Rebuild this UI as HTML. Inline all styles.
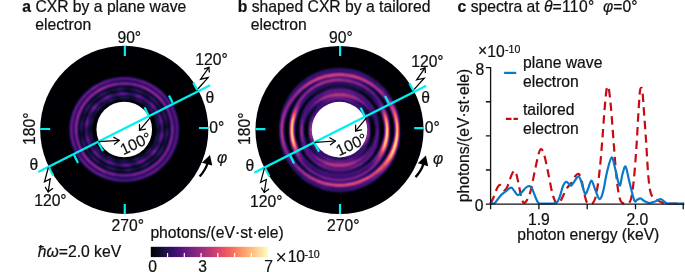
<!DOCTYPE html>
<html><head><meta charset="utf-8"><title>CXR figure</title>
<style>html,body{margin:0;padding:0;background:#fff}svg{display:block}text{font-family:'Liberation Sans', sans-serif;fill:#111;stroke:#111;stroke-width:0.22px}</style></head><body>
<svg width="685" height="272" viewBox="0 0 685 272">
<defs>
<filter id="mg" x="-5%" y="-5%" width="110%" height="110%" color-interpolation-filters="sRGB">
<feGaussianBlur stdDeviation="0.9"/>
<feComponentTransfer><feFuncR type="table" tableValues="0.001 0.014 0.040 0.074 0.113 0.159 0.212 0.265 0.317 0.366 0.415 0.464 0.513 0.563 0.614 0.665 0.716 0.767 0.817 0.863 0.904 0.937 0.961 0.977 0.987 0.993 0.996 0.997 0.997 0.995 0.992 0.989 0.987"/><feFuncG type="table" tableValues="0.000 0.012 0.031 0.052 0.065 0.068 0.062 0.060 0.072 0.090 0.110 0.130 0.148 0.165 0.182 0.198 0.215 0.234 0.256 0.284 0.320 0.365 0.418 0.476 0.536 0.595 0.654 0.712 0.770 0.827 0.884 0.941 0.991"/><feFuncB type="table" tableValues="0.014 0.069 0.134 0.203 0.277 0.353 0.419 0.462 0.485 0.498 0.505 0.508 0.508 0.505 0.499 0.489 0.475 0.458 0.436 0.412 0.388 0.369 0.360 0.364 0.382 0.410 0.446 0.488 0.535 0.586 0.640 0.698 0.750"/></feComponentTransfer>
</filter>
<filter id="mga" x="-5%" y="-5%" width="110%" height="110%" color-interpolation-filters="sRGB">
<feGaussianBlur stdDeviation="1.15"/>
<feComponentTransfer><feFuncR type="table" tableValues="0.001 0.014 0.040 0.074 0.113 0.159 0.212 0.265 0.317 0.366 0.415 0.464 0.513 0.563 0.614 0.665 0.716 0.767 0.817 0.863 0.904 0.937 0.961 0.977 0.987 0.993 0.996 0.997 0.997 0.995 0.992 0.989 0.987"/><feFuncG type="table" tableValues="0.000 0.012 0.031 0.052 0.065 0.068 0.062 0.060 0.072 0.090 0.110 0.130 0.148 0.165 0.182 0.198 0.215 0.234 0.256 0.284 0.320 0.365 0.418 0.476 0.536 0.595 0.654 0.712 0.770 0.827 0.884 0.941 0.991"/><feFuncB type="table" tableValues="0.014 0.069 0.134 0.203 0.277 0.353 0.419 0.462 0.485 0.498 0.505 0.508 0.508 0.505 0.499 0.489 0.475 0.458 0.436 0.412 0.388 0.369 0.360 0.364 0.382 0.410 0.446 0.488 0.535 0.586 0.640 0.698 0.750"/></feComponentTransfer>
</filter>
<linearGradient id="cb" x1="0" x2="1" y1="0" y2="0"><stop offset="0" stop-color="rgb(0,0,4)"/><stop offset="0.06" stop-color="rgb(10,8,34)"/><stop offset="0.12" stop-color="rgb(29,17,71)"/><stop offset="0.19" stop-color="rgb(54,16,107)"/><stop offset="0.25" stop-color="rgb(81,18,124)"/><stop offset="0.31" stop-color="rgb(106,28,129)"/><stop offset="0.38" stop-color="rgb(131,38,129)"/><stop offset="0.44" stop-color="rgb(156,46,127)"/><stop offset="0.5" stop-color="rgb(183,55,121)"/><stop offset="0.56" stop-color="rgb(208,65,111)"/><stop offset="0.62" stop-color="rgb(231,82,99)"/><stop offset="0.69" stop-color="rgb(245,107,92)"/><stop offset="0.75" stop-color="rgb(252,137,97)"/><stop offset="0.81" stop-color="rgb(254,167,114)"/><stop offset="0.88" stop-color="rgb(254,196,136)"/><stop offset="0.94" stop-color="rgb(253,226,163)"/><stop offset="1" stop-color="rgb(252,253,191)"/></linearGradient>
</defs>
<rect width="685" height="272" fill="#fff"/>
<circle cx="124.25" cy="129.9" r="84.05" fill="#000004"/>
<g filter="url(#mga)"><circle cx="124.25" cy="129.9" r="67" fill="#000"/>
<g fill="none" stroke="#fff" stroke-linecap="butt" stroke-linejoin="round">
<path d="M177.15 129.9 L177.09 127.13 L176.88 124.37 L176.51 121.62 L175.98 118.9 L175.31 116.22 L174.48 113.58 L173.51 110.99 L172.39 108.47 L171.14 106.01 L169.76 103.62 L168.25 101.33 L166.62 99.11 L164.88 97 L163.03 94.98" stroke-opacity="0.32" stroke-width="3"/>
<path d="M163.03 94.98 L161.08 93.07 L159.03 91.27 L156.9 89.58 L154.69 88.01 L152.4 86.55 L150.05 85.22 L147.63 84 L145.17 82.92 L142.65 81.96 L140.1 81.12" stroke-opacity="0.36" stroke-width="3"/>
<path d="M140.1 81.12 L137.51 80.41 L134.89 79.83 L132.25 79.38 L129.59 79.06 L126.92 78.86 L124.25 78.8 L121.58 78.86 L118.91 79.06 L116.25 79.38 L113.61 79.83 L110.99 80.41" stroke-opacity="0.32" stroke-width="3"/>
<path d="M110.99 80.41 L108.4 81.12 L105.85 81.96 L103.33 82.92 L100.87 84 L98.45 85.22" stroke-opacity="0.36" stroke-width="3"/>
<path d="M98.45 85.22 L96.1 86.55 L93.81 88.01 L91.6 89.58" stroke-opacity="0.4" stroke-width="3"/>
<path d="M91.6 89.58 L89.47 91.27 L87.42 93.07 L85.47 94.98 L83.62 97 L81.88 99.11 L80.25 101.33 L78.74 103.62 L77.36 106.01 L76.11 108.47 L74.99 110.99 L74.02 113.58 L73.19 116.22 L72.52 118.9 L71.99 121.62 L71.62 124.37 L71.41 127.13 L71.35 129.9 L71.45 132.67 L71.71 135.42 L72.12 138.16 L72.68 140.86 L73.39 143.53 L74.26 146.14" stroke-opacity="0.36" stroke-width="3"/>
<path d="M74.26 146.14 L75.26 148.71 L76.4 151.2 L77.68 153.63 L79.09 155.98 L80.61 158.24" stroke-opacity="0.32" stroke-width="3"/>
<path d="M80.61 158.24 L82.26 160.41 L84.01 162.48 L85.87 164.46 L87.82 166.33 L89.86 168.09 L91.99 169.74 L94.19 171.27 L96.46 172.69 L98.8 173.98 L101.19 175.16 L103.63 176.22 L106.11 177.15" stroke-opacity="0.36" stroke-width="3"/>
<path d="M106.11 177.15 L108.64 177.96 L111.19 178.64 L113.77 179.2 L116.37 179.64 L118.99 179.95" stroke-opacity="0.32" stroke-width="3"/>
<path d="M118.99 179.95 L121.62 180.14 L124.25 180.2 L126.88 180.14 L129.51 179.95 L132.13 179.64" stroke-opacity="0.28" stroke-width="3"/>
<path d="M132.13 179.64 L134.73 179.2 L137.31 178.64 L139.86 177.96 L142.39 177.15 L144.87 176.22 L147.31 175.16" stroke-opacity="0.32" stroke-width="3"/>
<path d="M147.31 175.16 L149.7 173.98 L152.04 172.69 L154.31 171.27 L156.51 169.74 L158.64 168.09" stroke-opacity="0.36" stroke-width="3"/>
<path d="M158.64 168.09 L160.68 166.33 L162.63 164.46 L164.49 162.48 L166.24 160.41 L167.89 158.24 L169.41 155.98 L170.82 153.63 L172.1 151.2 L173.24 148.71 L174.24 146.14 L175.11 143.53 L175.82 140.86 L176.38 138.16 L176.79 135.42 L177.05 132.67 L177.15 129.9" stroke-opacity="0.32" stroke-width="3"/>
<path d="M172.45 129.9 L172.4 127.38 L172.2 124.86" stroke-opacity="0.4" stroke-width="3.2"/>
<path d="M172.2 124.86 L171.87 122.36 L171.39 119.88 L170.77 117.44 L170.01 115.03 L169.12 112.68 L168.1 110.38" stroke-opacity="0.36" stroke-width="3.2"/>
<path d="M168.1 110.38 L166.95 108.14 L165.69 105.98 L164.31 103.89 L162.82 101.88" stroke-opacity="0.4" stroke-width="3.2"/>
<path d="M162.82 101.88 L161.23 99.96 L159.54 98.13 L157.75 96.4 L155.89 94.76 L153.94 93.23 L151.93 91.81 L149.84 90.49 L147.7 89.29 L145.5 88.19 L143.26 87.21 L140.97 86.34" stroke-opacity="0.44" stroke-width="3.2"/>
<path d="M140.97 86.34 L138.65 85.59 L136.29 84.95 L133.92 84.43 L131.52 84.02 L129.1 83.73 L126.68 83.56 L124.25 83.5 L121.82 83.56 L119.4 83.73 L116.98 84.02" stroke-opacity="0.4" stroke-width="3.2"/>
<path d="M116.98 84.02 L114.58 84.43 L112.21 84.95 L109.85 85.59 L107.53 86.34 L105.24 87.21" stroke-opacity="0.44" stroke-width="3.2"/>
<path d="M105.24 87.21 L103 88.19 L100.8 89.29 L98.66 90.49 L96.57 91.81" stroke-opacity="0.48" stroke-width="3.2"/>
<path d="M96.57 91.81 L94.56 93.23 L92.61 94.76 L90.75 96.4 L88.96 98.13 L87.27 99.96 L85.68 101.88 L84.19 103.89 L82.81 105.98 L81.55 108.14 L80.4 110.38 L79.38 112.68 L78.49 115.03 L77.73 117.44 L77.11 119.88 L76.63 122.36 L76.3 124.86 L76.1 127.38 L76.05 129.9 L76.14 132.42 L76.38 134.93" stroke-opacity="0.44" stroke-width="3.2"/>
<path d="M76.38 134.93 L76.76 137.42 L77.28 139.88 L77.93 142.31 L78.73 144.69 L79.65 147.02 L80.7 149.29 L81.87 151.49 L83.16 153.62" stroke-opacity="0.4" stroke-width="3.2"/>
<path d="M83.16 153.62 L84.56 155.68 L86.06 157.65 L87.66 159.53 L89.36 161.31 L91.15 163 L93.01 164.6 L94.95 166.08 L96.96 167.47 L99.02 168.74 L101.15 169.91 L103.32 170.97 L105.54 171.92" stroke-opacity="0.44" stroke-width="3.2"/>
<path d="M105.54 171.92 L107.8 172.76 L110.09 173.49 L112.41 174.1 L114.75 174.61" stroke-opacity="0.4" stroke-width="3.2"/>
<path d="M114.75 174.61 L117.11 175 L119.48 175.28 L121.86 175.44 L124.25 175.5 L126.64 175.44 L129.02 175.28" stroke-opacity="0.36" stroke-width="3.2"/>
<path d="M129.02 175.28 L131.39 175 L133.75 174.61 L136.09 174.1 L138.41 173.49 L140.7 172.76 L142.96 171.92 L145.18 170.97" stroke-opacity="0.4" stroke-width="3.2"/>
<path d="M145.18 170.97 L147.35 169.91" stroke-opacity="0.44" stroke-width="3.2"/>
<path d="M147.35 169.91 L149.48 168.74 L151.54 167.47 L153.55 166.08 L155.49 164.6 L157.35 163 L159.14 161.31 L160.84 159.53 L162.44 157.65 L163.94 155.68 L165.34 153.63 L166.63 151.49 L167.8 149.29 L168.85 147.02 L169.77 144.69 L170.57 142.31 L171.22 139.88 L171.74 137.42 L172.12 134.93 L172.36 132.42 L172.45 129.9" stroke-opacity="0.4" stroke-width="3.2"/>
<path d="M167.25 129.9 L167.21 127.65" stroke-opacity="0.16" stroke-width="2.6"/>
<path d="M167.21 127.65 L167.03 125.4 L166.73 123.17" stroke-opacity="0.12" stroke-width="2.6"/>
<path d="M166.73 123.17 L166.3 120.96" stroke-opacity="0.16" stroke-width="2.6"/>
<path d="M166.3 120.96 L165.74 118.78" stroke-opacity="0.2" stroke-width="2.6"/>
<path d="M165.74 118.78 L165.06 116.64 L164.26 114.54 L163.35 112.49" stroke-opacity="0.24" stroke-width="2.6"/>
<path d="M163.35 112.49 L162.32 110.5" stroke-opacity="0.2" stroke-width="2.6"/>
<path d="M162.32 110.5 L161.19 108.58 L159.95 106.72 L158.61 104.93" stroke-opacity="0.16" stroke-width="2.6"/>
<path d="M158.61 104.93 L157.19 103.23" stroke-opacity="0.2" stroke-width="2.6"/>
<path d="M157.19 103.23 L155.67 101.61 L154.08 100.07 L152.41 98.63 L150.67 97.27" stroke-opacity="0.24" stroke-width="2.6"/>
<path d="M150.67 97.27 L148.87 96.02" stroke-opacity="0.2" stroke-width="2.6"/>
<path d="M148.87 96.02 L147.01 94.85 L145.1 93.79 L143.14 92.83" stroke-opacity="0.16" stroke-width="2.6"/>
<path d="M143.14 92.83 L141.14 91.96" stroke-opacity="0.2" stroke-width="2.6"/>
<path d="M141.14 91.96 L139.11 91.2 L137.04 90.54 L134.95 89.97" stroke-opacity="0.24" stroke-width="2.6"/>
<path d="M134.95 89.97 L132.83 89.52" stroke-opacity="0.2" stroke-width="2.6"/>
<path d="M132.83 89.52 L130.7 89.16" stroke-opacity="0.16" stroke-width="2.6"/>
<path d="M130.7 89.16 L128.56 88.9 L126.41 88.75" stroke-opacity="0.12" stroke-width="2.6"/>
<path d="M126.41 88.75 L124.25 88.7" stroke-opacity="0.16" stroke-width="2.6"/>
<path d="M124.25 88.7 L122.09 88.75" stroke-opacity="0.2" stroke-width="2.6"/>
<path d="M122.09 88.75 L119.94 88.9 L117.8 89.16" stroke-opacity="0.24" stroke-width="2.6"/>
<path d="M117.8 89.16 L115.67 89.52" stroke-opacity="0.2" stroke-width="2.6"/>
<path d="M115.67 89.52 L113.55 89.97 L111.46 90.54" stroke-opacity="0.16" stroke-width="2.6"/>
<path d="M111.46 90.54 L109.39 91.2" stroke-opacity="0.12" stroke-width="2.6"/>
<path d="M109.39 91.2 L107.36 91.96" stroke-opacity="0.16" stroke-width="2.6"/>
<path d="M107.36 91.96 L105.36 92.83" stroke-opacity="0.2" stroke-width="2.6"/>
<path d="M105.36 92.83 L103.4 93.79 L101.49 94.85 L99.63 96.02" stroke-opacity="0.24" stroke-width="2.6"/>
<path d="M99.63 96.02 L97.83 97.27" stroke-opacity="0.2" stroke-width="2.6"/>
<path d="M97.83 97.27 L96.09 98.63 L94.42 100.07 L92.83 101.61 L91.31 103.23" stroke-opacity="0.16" stroke-width="2.6"/>
<path d="M91.31 103.23 L89.89 104.93" stroke-opacity="0.2" stroke-width="2.6"/>
<path d="M89.89 104.93 L88.55 106.72 L87.31 108.58 L86.18 110.5" stroke-opacity="0.24" stroke-width="2.6"/>
<path d="M86.18 110.5 L85.15 112.49" stroke-opacity="0.2" stroke-width="2.6"/>
<path d="M85.15 112.49 L84.24 114.54" stroke-opacity="0.16" stroke-width="2.6"/>
<path d="M84.24 114.54 L83.44 116.64" stroke-opacity="0.12" stroke-width="2.6"/>
<path d="M83.44 116.64 L82.76 118.78 L82.2 120.96" stroke-opacity="0.16" stroke-width="2.6"/>
<path d="M82.2 120.96 L81.77 123.17" stroke-opacity="0.2" stroke-width="2.6"/>
<path d="M81.77 123.17 L81.47 125.4 L81.29 127.65" stroke-opacity="0.24" stroke-width="2.6"/>
<path d="M81.29 127.65 L81.25 129.9" stroke-opacity="0.2" stroke-width="2.6"/>
<path d="M81.25 129.9 L81.34 132.15" stroke-opacity="0.16" stroke-width="2.6"/>
<path d="M81.34 132.15 L81.55 134.39 L81.89 136.61" stroke-opacity="0.12" stroke-width="2.6"/>
<path d="M81.89 136.61 L82.36 138.8" stroke-opacity="0.16" stroke-width="2.6"/>
<path d="M82.36 138.8 L82.96 140.96" stroke-opacity="0.2" stroke-width="2.6"/>
<path d="M82.96 140.96 L83.67 143.08 L84.5 145.16 L85.45 147.18" stroke-opacity="0.24" stroke-width="2.6"/>
<path d="M85.45 147.18 L86.5 149.13" stroke-opacity="0.2" stroke-width="2.6"/>
<path d="M86.5 149.13 L87.66 151.03 L88.92 152.85 L90.27 154.59" stroke-opacity="0.16" stroke-width="2.6"/>
<path d="M90.27 154.59 L91.71 156.25" stroke-opacity="0.2" stroke-width="2.6"/>
<path d="M91.71 156.25 L93.23 157.83 L94.82 159.33 L96.49 160.73 L98.22 162.04" stroke-opacity="0.24" stroke-width="2.6"/>
<path d="M98.22 162.04 L100.01 163.26" stroke-opacity="0.2" stroke-width="2.6"/>
<path d="M100.01 163.26 L101.86 164.38 L103.75 165.41 L105.68 166.34" stroke-opacity="0.16" stroke-width="2.6"/>
<path d="M105.68 166.34 L107.66 167.17" stroke-opacity="0.2" stroke-width="2.6"/>
<path d="M107.66 167.17 L109.66 167.91 L111.69 168.54 L113.75 169.08" stroke-opacity="0.24" stroke-width="2.6"/>
<path d="M113.75 169.08 L115.83 169.52" stroke-opacity="0.2" stroke-width="2.6"/>
<path d="M115.83 169.52 L117.92 169.86" stroke-opacity="0.16" stroke-width="2.6"/>
<path d="M117.92 169.86 L120.02 170.1 L122.14 170.25" stroke-opacity="0.12" stroke-width="2.6"/>
<path d="M122.14 170.25 L124.25 170.3" stroke-opacity="0.16" stroke-width="2.6"/>
<path d="M124.25 170.3 L126.36 170.25" stroke-opacity="0.2" stroke-width="2.6"/>
<path d="M126.36 170.25 L128.48 170.1 L130.58 169.86" stroke-opacity="0.24" stroke-width="2.6"/>
<path d="M130.58 169.86 L132.67 169.52" stroke-opacity="0.2" stroke-width="2.6"/>
<path d="M132.67 169.52 L134.75 169.08 L136.81 168.54" stroke-opacity="0.16" stroke-width="2.6"/>
<path d="M136.81 168.54 L138.84 167.91" stroke-opacity="0.12" stroke-width="2.6"/>
<path d="M138.84 167.91 L140.84 167.17" stroke-opacity="0.16" stroke-width="2.6"/>
<path d="M140.84 167.17 L142.82 166.34" stroke-opacity="0.2" stroke-width="2.6"/>
<path d="M142.82 166.34 L144.75 165.41 L146.64 164.38 L148.49 163.26" stroke-opacity="0.24" stroke-width="2.6"/>
<path d="M148.49 163.26 L150.28 162.04" stroke-opacity="0.2" stroke-width="2.6"/>
<path d="M150.28 162.04 L152.01 160.73 L153.68 159.33 L155.27 157.83 L156.79 156.25" stroke-opacity="0.16" stroke-width="2.6"/>
<path d="M156.79 156.25 L158.23 154.59" stroke-opacity="0.2" stroke-width="2.6"/>
<path d="M158.23 154.59 L159.58 152.85 L160.84 151.03 L162 149.13" stroke-opacity="0.24" stroke-width="2.6"/>
<path d="M162 149.13 L163.05 147.18" stroke-opacity="0.2" stroke-width="2.6"/>
<path d="M163.05 147.18 L164 145.16" stroke-opacity="0.16" stroke-width="2.6"/>
<path d="M164 145.16 L164.83 143.08" stroke-opacity="0.12" stroke-width="2.6"/>
<path d="M164.83 143.08 L165.54 140.96 L166.14 138.8" stroke-opacity="0.16" stroke-width="2.6"/>
<path d="M166.14 138.8 L166.61 136.61" stroke-opacity="0.2" stroke-width="2.6"/>
<path d="M166.61 136.61 L166.95 134.39 L167.16 132.15" stroke-opacity="0.24" stroke-width="2.6"/>
<path d="M167.16 132.15 L167.25 129.9" stroke-opacity="0.2" stroke-width="2.6"/>
<path d="M162.25 129.9 L162.21 127.91 L162.06 125.93" stroke-opacity="0.2" stroke-width="3.2"/>
<path d="M162.06 125.93 L161.79 123.95" stroke-opacity="0.24" stroke-width="3.2"/>
<path d="M161.79 123.95 L161.41 122" stroke-opacity="0.32" stroke-width="3.2"/>
<path d="M161.41 122 L160.91 120.08 L160.31 118.18" stroke-opacity="0.36" stroke-width="3.2"/>
<path d="M160.31 118.18 L159.6 116.33" stroke-opacity="0.32" stroke-width="3.2"/>
<path d="M159.6 116.33 L158.78 114.53" stroke-opacity="0.28" stroke-width="3.2"/>
<path d="M158.78 114.53 L157.87 112.77" stroke-opacity="0.24" stroke-width="3.2"/>
<path d="M157.87 112.77 L156.86 111.08" stroke-opacity="0.2" stroke-width="3.2"/>
<path d="M156.86 111.08 L155.75 109.44" stroke-opacity="0.24" stroke-width="3.2"/>
<path d="M155.75 109.44 L154.57 107.87" stroke-opacity="0.32" stroke-width="3.2"/>
<path d="M154.57 107.87 L153.3 106.38" stroke-opacity="0.36" stroke-width="3.2"/>
<path d="M153.3 106.38 L151.96 104.95" stroke-opacity="0.4" stroke-width="3.2"/>
<path d="M151.96 104.95 L150.54 103.61" stroke-opacity="0.36" stroke-width="3.2"/>
<path d="M150.54 103.61 L149.06 102.34" stroke-opacity="0.32" stroke-width="3.2"/>
<path d="M149.06 102.34 L147.52 101.16" stroke-opacity="0.28" stroke-width="3.2"/>
<path d="M147.52 101.16 L145.93 100.06 L144.29 99.05" stroke-opacity="0.24" stroke-width="3.2"/>
<path d="M144.29 99.05 L142.6 98.12" stroke-opacity="0.28" stroke-width="3.2"/>
<path d="M142.6 98.12 L140.87 97.28" stroke-opacity="0.32" stroke-width="3.2"/>
<path d="M140.87 97.28 L139.11 96.53 L137.31 95.87" stroke-opacity="0.36" stroke-width="3.2"/>
<path d="M137.31 95.87 L135.5 95.29" stroke-opacity="0.32" stroke-width="3.2"/>
<path d="M135.5 95.29 L133.65 94.8" stroke-opacity="0.28" stroke-width="3.2"/>
<path d="M133.65 94.8 L131.79 94.41 L129.92 94.1 L128.04 93.88" stroke-opacity="0.2" stroke-width="3.2"/>
<path d="M128.04 93.88 L126.14 93.74" stroke-opacity="0.28" stroke-width="3.2"/>
<path d="M126.14 93.74 L124.25 93.7" stroke-opacity="0.32" stroke-width="3.2"/>
<path d="M124.25 93.7 L122.36 93.74 L120.46 93.88" stroke-opacity="0.36" stroke-width="3.2"/>
<path d="M120.46 93.88 L118.58 94.1" stroke-opacity="0.32" stroke-width="3.2"/>
<path d="M118.58 94.1 L116.71 94.41" stroke-opacity="0.24" stroke-width="3.2"/>
<path d="M116.71 94.41 L114.85 94.8 L113 95.29" stroke-opacity="0.2" stroke-width="3.2"/>
<path d="M113 95.29 L111.19 95.87" stroke-opacity="0.24" stroke-width="3.2"/>
<path d="M111.19 95.87 L109.39 96.53" stroke-opacity="0.32" stroke-width="3.2"/>
<path d="M109.39 96.53 L107.63 97.28" stroke-opacity="0.36" stroke-width="3.2"/>
<path d="M107.63 97.28 L105.9 98.12" stroke-opacity="0.4" stroke-width="3.2"/>
<path d="M105.9 98.12 L104.21 99.05" stroke-opacity="0.36" stroke-width="3.2"/>
<path d="M104.21 99.05 L102.57 100.06" stroke-opacity="0.32" stroke-width="3.2"/>
<path d="M102.57 100.06 L100.98 101.16 L99.44 102.34 L97.96 103.61" stroke-opacity="0.24" stroke-width="3.2"/>
<path d="M97.96 103.61 L96.54 104.95" stroke-opacity="0.28" stroke-width="3.2"/>
<path d="M96.54 104.95 L95.2 106.38" stroke-opacity="0.36" stroke-width="3.2"/>
<path d="M95.2 106.38 L93.93 107.87 L92.75 109.44" stroke-opacity="0.4" stroke-width="3.2"/>
<path d="M92.75 109.44 L91.64 111.08" stroke-opacity="0.32" stroke-width="3.2"/>
<path d="M91.64 111.08 L90.63 112.77" stroke-opacity="0.28" stroke-width="3.2"/>
<path d="M90.63 112.77 L89.72 114.53" stroke-opacity="0.24" stroke-width="3.2"/>
<path d="M89.72 114.53 L88.9 116.33" stroke-opacity="0.2" stroke-width="3.2"/>
<path d="M88.9 116.33 L88.19 118.18" stroke-opacity="0.24" stroke-width="3.2"/>
<path d="M88.19 118.18 L87.59 120.08" stroke-opacity="0.32" stroke-width="3.2"/>
<path d="M87.59 120.08 L87.09 122 L86.71 123.95 L86.44 125.93" stroke-opacity="0.36" stroke-width="3.2"/>
<path d="M86.44 125.93 L86.29 127.91" stroke-opacity="0.28" stroke-width="3.2"/>
<path d="M86.29 127.91 L86.25 129.9" stroke-opacity="0.24" stroke-width="3.2"/>
<path d="M86.25 129.9 L86.33 131.89 L86.52 133.87" stroke-opacity="0.2" stroke-width="3.2"/>
<path d="M86.52 133.87 L86.83 135.83" stroke-opacity="0.24" stroke-width="3.2"/>
<path d="M86.83 135.83 L87.25 137.76" stroke-opacity="0.32" stroke-width="3.2"/>
<path d="M87.25 137.76 L87.79 139.67 L88.43 141.54" stroke-opacity="0.36" stroke-width="3.2"/>
<path d="M88.43 141.54 L89.17 143.37" stroke-opacity="0.32" stroke-width="3.2"/>
<path d="M89.17 143.37 L90.02 145.14" stroke-opacity="0.28" stroke-width="3.2"/>
<path d="M90.02 145.14 L90.96 146.86" stroke-opacity="0.24" stroke-width="3.2"/>
<path d="M90.96 146.86 L91.99 148.53" stroke-opacity="0.2" stroke-width="3.2"/>
<path d="M91.99 148.53 L93.11 150.12" stroke-opacity="0.24" stroke-width="3.2"/>
<path d="M93.11 150.12 L94.31 151.65" stroke-opacity="0.32" stroke-width="3.2"/>
<path d="M94.31 151.65 L95.59 153.11" stroke-opacity="0.36" stroke-width="3.2"/>
<path d="M95.59 153.11 L96.94 154.49" stroke-opacity="0.4" stroke-width="3.2"/>
<path d="M96.94 154.49 L98.36 155.79" stroke-opacity="0.36" stroke-width="3.2"/>
<path d="M98.36 155.79 L99.83 157.02" stroke-opacity="0.32" stroke-width="3.2"/>
<path d="M99.83 157.02 L101.37 158.16" stroke-opacity="0.28" stroke-width="3.2"/>
<path d="M101.37 158.16 L102.95 159.22 L104.58 160.19" stroke-opacity="0.24" stroke-width="3.2"/>
<path d="M104.58 160.19 L106.25 161.08" stroke-opacity="0.28" stroke-width="3.2"/>
<path d="M106.25 161.08 L107.95 161.88" stroke-opacity="0.32" stroke-width="3.2"/>
<path d="M107.95 161.88 L109.69 162.6 L111.45 163.24" stroke-opacity="0.36" stroke-width="3.2"/>
<path d="M111.45 163.24 L113.24 163.79" stroke-opacity="0.32" stroke-width="3.2"/>
<path d="M113.24 163.79 L115.05 164.25" stroke-opacity="0.28" stroke-width="3.2"/>
<path d="M115.05 164.25 L116.87 164.63 L118.7 164.92 L120.55 165.13" stroke-opacity="0.2" stroke-width="3.2"/>
<path d="M120.55 165.13 L122.4 165.26" stroke-opacity="0.28" stroke-width="3.2"/>
<path d="M122.4 165.26 L124.25 165.3" stroke-opacity="0.32" stroke-width="3.2"/>
<path d="M124.25 165.3 L126.1 165.26 L127.95 165.13" stroke-opacity="0.36" stroke-width="3.2"/>
<path d="M127.95 165.13 L129.8 164.92" stroke-opacity="0.32" stroke-width="3.2"/>
<path d="M129.8 164.92 L131.63 164.63" stroke-opacity="0.24" stroke-width="3.2"/>
<path d="M131.63 164.63 L133.45 164.25 L135.26 163.79" stroke-opacity="0.2" stroke-width="3.2"/>
<path d="M135.26 163.79 L137.05 163.24" stroke-opacity="0.24" stroke-width="3.2"/>
<path d="M137.05 163.24 L138.81 162.6" stroke-opacity="0.32" stroke-width="3.2"/>
<path d="M138.81 162.6 L140.55 161.88" stroke-opacity="0.36" stroke-width="3.2"/>
<path d="M140.55 161.88 L142.25 161.08" stroke-opacity="0.4" stroke-width="3.2"/>
<path d="M142.25 161.08 L143.92 160.19" stroke-opacity="0.36" stroke-width="3.2"/>
<path d="M143.92 160.19 L145.55 159.22" stroke-opacity="0.32" stroke-width="3.2"/>
<path d="M145.55 159.22 L147.13 158.16 L148.67 157.02 L150.14 155.79" stroke-opacity="0.24" stroke-width="3.2"/>
<path d="M150.14 155.79 L151.56 154.49" stroke-opacity="0.28" stroke-width="3.2"/>
<path d="M151.56 154.49 L152.91 153.11" stroke-opacity="0.36" stroke-width="3.2"/>
<path d="M152.91 153.11 L154.19 151.65 L155.39 150.12" stroke-opacity="0.4" stroke-width="3.2"/>
<path d="M155.39 150.12 L156.51 148.53" stroke-opacity="0.32" stroke-width="3.2"/>
<path d="M156.51 148.53 L157.54 146.86" stroke-opacity="0.28" stroke-width="3.2"/>
<path d="M157.54 146.86 L158.48 145.14" stroke-opacity="0.24" stroke-width="3.2"/>
<path d="M158.48 145.14 L159.33 143.37" stroke-opacity="0.2" stroke-width="3.2"/>
<path d="M159.33 143.37 L160.07 141.54" stroke-opacity="0.24" stroke-width="3.2"/>
<path d="M160.07 141.54 L160.71 139.67" stroke-opacity="0.32" stroke-width="3.2"/>
<path d="M160.71 139.67 L161.25 137.76 L161.67 135.83 L161.98 133.87" stroke-opacity="0.36" stroke-width="3.2"/>
<path d="M161.98 133.87 L162.17 131.89" stroke-opacity="0.28" stroke-width="3.2"/>
<path d="M162.17 131.89 L162.25 129.9" stroke-opacity="0.24" stroke-width="3.2"/>
<path d="M158.05 129.9 L158.02 128.13 L157.88 126.37" stroke-opacity="0.12" stroke-width="3"/>
<path d="M157.88 126.37 L157.64 124.61 L157.3 122.88 L156.86 121.16 L156.31 119.48" stroke-opacity="0.16" stroke-width="3"/>
<path d="M156.31 119.48 L155.68 117.84 L154.94 116.23 L154.12 114.68 L153.22 113.18" stroke-opacity="0.12" stroke-width="3"/>
<path d="M153.22 113.18 L152.23 111.73" stroke-opacity="0.16" stroke-width="3"/>
<path d="M152.23 111.73 L151.17 110.34 L150.04 109.02" stroke-opacity="0.2" stroke-width="3"/>
<path d="M150.04 109.02 L148.84 107.76 L147.57 106.58" stroke-opacity="0.16" stroke-width="3"/>
<path d="M147.57 106.58 L146.25 105.46 L144.88 104.42 L143.46 103.46 L142 102.57" stroke-opacity="0.12" stroke-width="3"/>
<path d="M142 102.57 L140.5 101.76" stroke-opacity="0.16" stroke-width="3"/>
<path d="M140.5 101.76 L138.96 101.02 L137.4 100.37" stroke-opacity="0.2" stroke-width="3"/>
<path d="M137.4 100.37 L135.81 99.79" stroke-opacity="0.16" stroke-width="3"/>
<path d="M135.81 99.79 L134.2 99.29 L132.57 98.86" stroke-opacity="0.12" stroke-width="3"/>
<path d="M132.57 98.86 L130.92 98.51" stroke-opacity="0.08" stroke-width="3"/>
<path d="M130.92 98.51 L129.26 98.25 L127.6 98.05" stroke-opacity="0.12" stroke-width="3"/>
<path d="M127.6 98.05 L125.93 97.94 L124.25 97.9 L122.57 97.94 L120.9 98.05" stroke-opacity="0.16" stroke-width="3"/>
<path d="M120.9 98.05 L119.24 98.25" stroke-opacity="0.12" stroke-width="3"/>
<path d="M119.24 98.25 L117.58 98.51" stroke-opacity="0.08" stroke-width="3"/>
<path d="M117.58 98.51 L115.93 98.86 L114.3 99.29" stroke-opacity="0.12" stroke-width="3"/>
<path d="M114.3 99.29 L112.69 99.79" stroke-opacity="0.16" stroke-width="3"/>
<path d="M112.69 99.79 L111.1 100.37 L109.54 101.02" stroke-opacity="0.2" stroke-width="3"/>
<path d="M109.54 101.02 L108 101.76" stroke-opacity="0.16" stroke-width="3"/>
<path d="M108 101.76 L106.5 102.57 L105.04 103.46 L103.62 104.42 L102.25 105.46" stroke-opacity="0.12" stroke-width="3"/>
<path d="M102.25 105.46 L100.93 106.58 L99.66 107.76" stroke-opacity="0.16" stroke-width="3"/>
<path d="M99.66 107.76 L98.46 109.02 L97.33 110.34" stroke-opacity="0.2" stroke-width="3"/>
<path d="M97.33 110.34 L96.27 111.73" stroke-opacity="0.16" stroke-width="3"/>
<path d="M96.27 111.73 L95.28 113.18 L94.38 114.68 L93.56 116.23 L92.82 117.84" stroke-opacity="0.12" stroke-width="3"/>
<path d="M92.82 117.84 L92.19 119.48 L91.64 121.16 L91.2 122.88 L90.86 124.61" stroke-opacity="0.16" stroke-width="3"/>
<path d="M90.86 124.61 L90.62 126.37 L90.48 128.13" stroke-opacity="0.12" stroke-width="3"/>
<path d="M90.48 128.13 L90.45 129.9" stroke-opacity="0.08" stroke-width="3"/>
<path d="M90.45 129.9 L90.52 131.67 L90.7 133.43" stroke-opacity="0.12" stroke-width="3"/>
<path d="M90.7 133.43 L90.98 135.17 L91.36 136.89 L91.84 138.58 L92.42 140.24" stroke-opacity="0.16" stroke-width="3"/>
<path d="M92.42 140.24 L93.09 141.86 L93.85 143.43 L94.7 144.96 L95.63 146.43" stroke-opacity="0.12" stroke-width="3"/>
<path d="M95.63 146.43 L96.63 147.83" stroke-opacity="0.16" stroke-width="3"/>
<path d="M96.63 147.83 L97.71 149.18 L98.86 150.46" stroke-opacity="0.2" stroke-width="3"/>
<path d="M98.86 150.46 L100.06 151.68 L101.33 152.82" stroke-opacity="0.16" stroke-width="3"/>
<path d="M101.33 152.82 L102.65 153.89 L104.01 154.89 L105.42 155.82 L106.87 156.67" stroke-opacity="0.12" stroke-width="3"/>
<path d="M106.87 156.67 L108.35 157.44" stroke-opacity="0.16" stroke-width="3"/>
<path d="M108.35 157.44 L109.86 158.14 L111.4 158.77" stroke-opacity="0.2" stroke-width="3"/>
<path d="M111.4 158.77 L112.96 159.32" stroke-opacity="0.16" stroke-width="3"/>
<path d="M112.96 159.32 L114.54 159.79 L116.13 160.19" stroke-opacity="0.12" stroke-width="3"/>
<path d="M116.13 160.19 L117.74 160.52" stroke-opacity="0.08" stroke-width="3"/>
<path d="M117.74 160.52 L119.36 160.77 L120.99 160.96" stroke-opacity="0.12" stroke-width="3"/>
<path d="M120.99 160.96 L122.62 161.06 L124.25 161.1 L125.88 161.06 L127.51 160.96" stroke-opacity="0.16" stroke-width="3"/>
<path d="M127.51 160.96 L129.14 160.77" stroke-opacity="0.12" stroke-width="3"/>
<path d="M129.14 160.77 L130.76 160.52" stroke-opacity="0.08" stroke-width="3"/>
<path d="M130.76 160.52 L132.37 160.19 L133.96 159.79" stroke-opacity="0.12" stroke-width="3"/>
<path d="M133.96 159.79 L135.54 159.32" stroke-opacity="0.16" stroke-width="3"/>
<path d="M135.54 159.32 L137.1 158.77 L138.64 158.14" stroke-opacity="0.2" stroke-width="3"/>
<path d="M138.64 158.14 L140.15 157.44" stroke-opacity="0.16" stroke-width="3"/>
<path d="M140.15 157.44 L141.63 156.67 L143.08 155.82 L144.49 154.89 L145.85 153.89" stroke-opacity="0.12" stroke-width="3"/>
<path d="M145.85 153.89 L147.17 152.82 L148.44 151.68" stroke-opacity="0.16" stroke-width="3"/>
<path d="M148.44 151.68 L149.64 150.46 L150.79 149.18" stroke-opacity="0.2" stroke-width="3"/>
<path d="M150.79 149.18 L151.87 147.83" stroke-opacity="0.16" stroke-width="3"/>
<path d="M151.87 147.83 L152.87 146.43 L153.8 144.96 L154.65 143.43 L155.41 141.86" stroke-opacity="0.12" stroke-width="3"/>
<path d="M155.41 141.86 L156.08 140.24 L156.66 138.58 L157.14 136.89 L157.52 135.17" stroke-opacity="0.16" stroke-width="3"/>
<path d="M157.52 135.17 L157.8 133.43 L157.98 131.67" stroke-opacity="0.12" stroke-width="3"/>
<path d="M157.98 131.67 L158.05 129.9" stroke-opacity="0.08" stroke-width="3"/>
</g></g>
<circle cx="124.25" cy="129.5" r="27.8" fill="#fff"/>
<g stroke="#00f0f0" stroke-width="2.2">
<path d="M124.85 45.9 v10 M124.75 213.9 v-10 M40.15 129 h10 M208.35 128 h-9.4"/>
</g>
<g transform="translate(0 0)">
<g stroke="#00f0f0" stroke-width="2.2" fill="none" stroke-linecap="butt">
<path d="M38.2 172.1 L210.1 85.2"/>
<path d="M197.2 90 L193.3 82.7"/>
<path d="M149.1 116.9 L144.6 107.2"/>
<path d="M48.7 167 L53.1 175.6"/>
<path d="M98.6 143 L103 151"/>
</g>
<g stroke="#00f0f0" stroke-width="2.2" fill="none"><path d="M172.6 102.8 L169 95.4 M74.1 154.9 L78 163"/></g>
<g stroke="#000" stroke-width="1.25" fill="none" stroke-linejoin="miter" stroke-linecap="round">
<path d="M198.3 88.5 L208.1 77.6 L200.6 79.2 L208.9 67.3"/><path d="M204.5 68.8 L208.9 67.3 L209.3 72"/>
<path d="M48.2 168 L44.5 181.8 L50.2 178.9 L48.2 191.8"/><path d="M45.4 187.4 L48.2 191.8 L52.6 188.6"/>
<path d="M150.2 117.6 L139.5 130.3"/><path d="M139.5 124.5 L139.5 130.3 L145.5 129.2"/>
<path d="M99 141.7 L119.2 140.4"/><path d="M113.7 137.2 L119.2 140.4 L114.4 144.2"/>
</g>
</g>
<circle cx="339.5" cy="130" r="84.05" fill="#000004"/>
<g filter="url(#mg)"><circle cx="339.5" cy="130" r="67" fill="#000"/>
<g fill="none" stroke="#fff" stroke-linecap="butt" stroke-linejoin="round">
<path d="M397.3 130 L397.36 126.97" stroke-opacity="0.72" stroke-width="3.3"/>
<path d="M397.36 126.97 L397.26 123.93" stroke-opacity="0.68" stroke-width="3.3"/>
<path d="M397.26 123.93 L397.01 120.89" stroke-opacity="0.6" stroke-width="3.3"/>
<path d="M397.01 120.89 L396.59 117.87" stroke-opacity="0.56" stroke-width="3.3"/>
<path d="M396.59 117.87 L396.01 114.86" stroke-opacity="0.48" stroke-width="3.3"/>
<path d="M396.01 114.86 L395.26 111.88" stroke-opacity="0.44" stroke-width="3.3"/>
<path d="M395.26 111.88 L394.36 108.94" stroke-opacity="0.4" stroke-width="3.3"/>
<path d="M394.36 108.94 L393.31 106.04" stroke-opacity="0.32" stroke-width="3.3"/>
<path d="M393.31 106.04 L392.09 103.2 L390.73 100.43" stroke-opacity="0.28" stroke-width="3.3"/>
<path d="M390.73 100.43 L389.21 97.72" stroke-opacity="0.24" stroke-width="3.3"/>
<path d="M389.21 97.72 L387.55 95.09 L385.74 92.56 L383.8 90.12 L381.72 87.78" stroke-opacity="0.2" stroke-width="3.3"/>
<path d="M381.72 87.78 L379.52 85.56 L377.2 83.45 L374.76 81.47 L372.21 79.63 L369.57 77.92" stroke-opacity="0.16" stroke-width="3.3"/>
<path d="M369.57 77.92 L366.83 76.36 L364.01 74.94 L361.12 73.69 L358.15 72.59 L355.13 71.65 L352.07 70.88 L348.96 70.28 L345.82 69.85 L342.67 69.59 L339.5 69.5 L336.33 69.59 L333.18 69.85 L330.04 70.28 L326.93 70.88 L323.87 71.65 L320.85 72.59 L317.88 73.69 L314.99 74.94 L312.17 76.36 L309.43 77.92 L306.79 79.63" stroke-opacity="0.2" stroke-width="3.3"/>
<path d="M306.79 79.63 L304.24 81.47 L301.8 83.45 L299.48 85.56 L297.28 87.78 L295.2 90.12 L293.26 92.56 L291.45 95.09 L289.79 97.72 L288.27 100.43 L286.91 103.2 L285.69 106.04" stroke-opacity="0.16" stroke-width="3.3"/>
<path d="M285.69 106.04 L284.64 108.94 L283.74 111.88" stroke-opacity="0.2" stroke-width="3.3"/>
<path d="M283.74 111.88 L282.99 114.86 L282.41 117.87" stroke-opacity="0.24" stroke-width="3.3"/>
<path d="M282.41 117.87 L281.99 120.89 L281.74 123.93" stroke-opacity="0.28" stroke-width="3.3"/>
<path d="M281.74 123.93 L281.64 126.97 L281.7 130 L281.92 133.02" stroke-opacity="0.32" stroke-width="3.3"/>
<path d="M281.92 133.02 L282.3 136.01 L282.83 138.98 L283.51 141.9 L284.34 144.78 L285.32 147.6 L286.44 150.37 L287.7 153.06 L289.09 155.68 L290.61 158.22 L292.26 160.68 L294.02 163.04" stroke-opacity="0.36" stroke-width="3.3"/>
<path d="M294.02 163.04 L295.9 165.31 L297.89 167.47" stroke-opacity="0.4" stroke-width="3.3"/>
<path d="M297.89 167.47 L299.98 169.52 L302.17 171.46" stroke-opacity="0.44" stroke-width="3.3"/>
<path d="M302.17 171.46 L304.45 173.29 L306.81 174.99" stroke-opacity="0.48" stroke-width="3.3"/>
<path d="M306.81 174.99 L309.25 176.58 L311.77 178.03" stroke-opacity="0.52" stroke-width="3.3"/>
<path d="M311.77 178.03 L314.35 179.36 L316.99 180.55" stroke-opacity="0.56" stroke-width="3.3"/>
<path d="M316.99 180.55 L319.69 181.61 L322.43 182.53 L325.22 183.31" stroke-opacity="0.6" stroke-width="3.3"/>
<path d="M325.22 183.31 L328.03 183.95 L330.88 184.45 L333.74 184.81" stroke-opacity="0.64" stroke-width="3.3"/>
<path d="M333.74 184.81 L336.62 185.03 L339.5 185.1 L342.38 185.03 L345.26 184.81 L348.12 184.45 L350.97 183.95 L353.78 183.31 L356.57 182.53 L359.31 181.61 L362.01 180.55 L364.65 179.36 L367.23 178.03 L369.75 176.58" stroke-opacity="0.68" stroke-width="3.3"/>
<path d="M369.75 176.58 L372.19 174.99 L374.55 173.29" stroke-opacity="0.64" stroke-width="3.3"/>
<path d="M374.55 173.29 L376.83 171.46 L379.02 169.52 L381.11 167.47 L383.1 165.31" stroke-opacity="0.68" stroke-width="3.3"/>
<path d="M383.1 165.31 L384.98 163.04 L386.74 160.68" stroke-opacity="0.72" stroke-width="3.3"/>
<path d="M386.74 160.68 L388.39 158.23 L389.91 155.68" stroke-opacity="0.76" stroke-width="3.3"/>
<path d="M389.91 155.68 L391.3 153.06" stroke-opacity="0.8" stroke-width="3.3"/>
<path d="M391.3 153.06 L392.56 150.37 L393.68 147.6" stroke-opacity="0.84" stroke-width="3.3"/>
<path d="M393.68 147.6 L394.66 144.78 L395.49 141.9 L396.17 138.98" stroke-opacity="0.88" stroke-width="3.3"/>
<path d="M396.17 138.98 L396.7 136.01 L397.08 133.02" stroke-opacity="0.84" stroke-width="3.3"/>
<path d="M397.08 133.02 L397.3 130" stroke-opacity="0.76" stroke-width="3.3"/>
<path d="M387.2 130 L387.28 127.5" stroke-opacity="0.84" stroke-width="3.3"/>
<path d="M387.28 127.5 L387.22 124.98" stroke-opacity="0.8" stroke-width="3.3"/>
<path d="M387.22 124.98 L387.03 122.47" stroke-opacity="0.72" stroke-width="3.3"/>
<path d="M387.03 122.47 L386.71 119.97" stroke-opacity="0.64" stroke-width="3.3"/>
<path d="M386.71 119.97 L386.25 117.47" stroke-opacity="0.6" stroke-width="3.3"/>
<path d="M386.25 117.47 L385.66 115" stroke-opacity="0.52" stroke-width="3.3"/>
<path d="M385.66 115 L384.94 112.56" stroke-opacity="0.44" stroke-width="3.3"/>
<path d="M384.94 112.56 L384.08 110.15" stroke-opacity="0.4" stroke-width="3.3"/>
<path d="M384.08 110.15 L383.09 107.79" stroke-opacity="0.36" stroke-width="3.3"/>
<path d="M383.09 107.79 L381.98 105.47 L380.74 103.22" stroke-opacity="0.32" stroke-width="3.3"/>
<path d="M380.74 103.22 L379.37 101.03 L377.89 98.91 L376.29 96.87 L374.58 94.92" stroke-opacity="0.28" stroke-width="3.3"/>
<path d="M374.58 94.92 L372.76 93.06 L370.84 91.3 L368.82 89.64" stroke-opacity="0.32" stroke-width="3.3"/>
<path d="M368.82 89.64 L366.71 88.1 L364.52 86.67 L362.25 85.36" stroke-opacity="0.36" stroke-width="3.3"/>
<path d="M362.25 85.36 L359.9 84.17 L357.5 83.11 L355.03 82.19 L352.52 81.41" stroke-opacity="0.4" stroke-width="3.3"/>
<path d="M352.52 81.41 L349.97 80.76 L347.38 80.25 L344.77 79.89 L342.14 79.67" stroke-opacity="0.44" stroke-width="3.3"/>
<path d="M342.14 79.67 L339.5 79.6 L336.86 79.67 L334.23 79.89 L331.62 80.25 L329.03 80.76 L326.48 81.41 L323.97 82.19 L321.5 83.11 L319.1 84.17 L316.75 85.36" stroke-opacity="0.48" stroke-width="3.3"/>
<path d="M316.75 85.36 L314.48 86.67 L312.29 88.1 L310.18 89.64 L308.16 91.3" stroke-opacity="0.44" stroke-width="3.3"/>
<path d="M308.16 91.3 L306.24 93.06 L304.42 94.92 L302.71 96.87 L301.11 98.91 L299.63 101.03 L298.26 103.22 L297.02 105.47" stroke-opacity="0.4" stroke-width="3.3"/>
<path d="M297.02 105.47 L295.91 107.79" stroke-opacity="0.44" stroke-width="3.3"/>
<path d="M295.91 107.79 L294.92 110.15" stroke-opacity="0.48" stroke-width="3.3"/>
<path d="M294.92 110.15 L294.06 112.56" stroke-opacity="0.52" stroke-width="3.3"/>
<path d="M294.06 112.56 L293.34 115" stroke-opacity="0.56" stroke-width="3.3"/>
<path d="M293.34 115 L292.75 117.47" stroke-opacity="0.64" stroke-width="3.3"/>
<path d="M292.75 117.47 L292.29 119.97" stroke-opacity="0.72" stroke-width="3.3"/>
<path d="M292.29 119.97 L291.97 122.47" stroke-opacity="0.8" stroke-width="3.3"/>
<path d="M291.97 122.47 L291.78 124.98" stroke-opacity="0.84" stroke-width="3.3"/>
<path d="M291.78 124.98 L291.72 127.5" stroke-opacity="0.92" stroke-width="3.3"/>
<path d="M291.72 127.5 L291.8 130 L292.01 132.49" stroke-opacity="0.96" stroke-width="3.3"/>
<path d="M292.01 132.49 L292.34 134.96" stroke-opacity="0.92" stroke-width="3.3"/>
<path d="M292.34 134.96 L292.8 137.4" stroke-opacity="0.88" stroke-width="3.3"/>
<path d="M292.8 137.4 L293.39 139.8" stroke-opacity="0.8" stroke-width="3.3"/>
<path d="M293.39 139.8 L294.1 142.16" stroke-opacity="0.72" stroke-width="3.3"/>
<path d="M294.1 142.16 L294.93 144.48" stroke-opacity="0.64" stroke-width="3.3"/>
<path d="M294.93 144.48 L295.87 146.75" stroke-opacity="0.56" stroke-width="3.3"/>
<path d="M295.87 146.75 L296.93 148.95" stroke-opacity="0.48" stroke-width="3.3"/>
<path d="M296.93 148.95 L298.09 151.1" stroke-opacity="0.4" stroke-width="3.3"/>
<path d="M298.09 151.1 L299.36 153.18" stroke-opacity="0.32" stroke-width="3.3"/>
<path d="M299.36 153.18 L300.73 155.18" stroke-opacity="0.28" stroke-width="3.3"/>
<path d="M300.73 155.18 L302.19 157.1 L303.75 158.95" stroke-opacity="0.24" stroke-width="3.3"/>
<path d="M303.75 158.95 L305.39 160.71 L307.12 162.38 L308.93 163.96 L310.8 165.44 L312.75 166.82 L314.75 168.11 L316.82 169.28 L318.94 170.36 L321.1 171.32 L323.31 172.18" stroke-opacity="0.2" stroke-width="3.3"/>
<path d="M323.31 172.18 L325.55 172.92 L327.83 173.56 L330.13 174.07 L332.46 174.48 L334.79 174.77 L337.14 174.94 L339.5 175 L341.86 174.94 L344.21 174.77 L346.54 174.48 L348.87 174.07 L351.17 173.56 L353.45 172.92 L355.69 172.18 L357.9 171.32 L360.06 170.36 L362.18 169.28 L364.25 168.11 L366.25 166.82 L368.2 165.44 L370.07 163.96 L371.88 162.38" stroke-opacity="0.24" stroke-width="3.3"/>
<path d="M371.88 162.38 L373.61 160.71 L375.25 158.95" stroke-opacity="0.28" stroke-width="3.3"/>
<path d="M375.25 158.95 L376.81 157.1" stroke-opacity="0.32" stroke-width="3.3"/>
<path d="M376.81 157.1 L378.27 155.18" stroke-opacity="0.36" stroke-width="3.3"/>
<path d="M378.27 155.18 L379.64 153.18" stroke-opacity="0.4" stroke-width="3.3"/>
<path d="M379.64 153.18 L380.91 151.1" stroke-opacity="0.44" stroke-width="3.3"/>
<path d="M380.91 151.1 L382.07 148.95" stroke-opacity="0.52" stroke-width="3.3"/>
<path d="M382.07 148.95 L383.13 146.75" stroke-opacity="0.6" stroke-width="3.3"/>
<path d="M383.13 146.75 L384.07 144.48" stroke-opacity="0.64" stroke-width="3.3"/>
<path d="M384.07 144.48 L384.9 142.16" stroke-opacity="0.72" stroke-width="3.3"/>
<path d="M384.9 142.16 L385.61 139.8" stroke-opacity="0.76" stroke-width="3.3"/>
<path d="M385.61 139.8 L386.2 137.4 L386.66 134.96" stroke-opacity="0.84" stroke-width="3.3"/>
<path d="M386.66 134.96 L386.99 132.49 L387.2 130" stroke-opacity="0.88" stroke-width="3.3"/>
<path d="M377.4 130 L377.49 128.01 L377.47 126.01 L377.35 124.01 L377.12 122 L376.78 120.01 L376.34 118.03 L375.79 116.07 L375.13 114.14 L374.36 112.24 L373.49 110.38" stroke-opacity="0.16" stroke-width="3.3"/>
<path d="M373.49 110.38 L372.52 108.56 L371.45 106.79 L370.27 105.08 L369.01 103.43 L367.65 101.85 L366.2 100.34 L364.67 98.92" stroke-opacity="0.2" stroke-width="3.3"/>
<path d="M364.67 98.92 L363.06 97.57 L361.38 96.32 L359.62 95.15 L357.8 94.09 L355.92 93.12 L353.99 92.26 L352.01 91.51" stroke-opacity="0.24" stroke-width="3.3"/>
<path d="M352.01 91.51 L349.98 90.87 L347.93 90.34 L345.85 89.93 L343.74 89.64 L341.62 89.46 L339.5 89.4 L337.38 89.46 L335.26 89.64 L333.15 89.93 L331.07 90.34 L329.02 90.87 L326.99 91.51" stroke-opacity="0.28" stroke-width="3.3"/>
<path d="M326.99 91.51 L325.01 92.26 L323.08 93.12 L321.2 94.09 L319.38 95.15 L317.62 96.32 L315.94 97.57 L314.33 98.92" stroke-opacity="0.24" stroke-width="3.3"/>
<path d="M314.33 98.92 L312.8 100.34 L311.35 101.85 L309.99 103.43 L308.73 105.08 L307.55 106.79 L306.48 108.56 L305.51 110.38 L304.64 112.24 L303.87 114.14 L303.21 116.07 L302.66 118.03" stroke-opacity="0.2" stroke-width="3.3"/>
<path d="M302.66 118.03 L302.22 120.01 L301.88 122 L301.65 124.01 L301.53 126.01" stroke-opacity="0.24" stroke-width="3.3"/>
<path d="M301.53 126.01 L301.51 128.01 L301.6 130" stroke-opacity="0.28" stroke-width="3.3"/>
<path d="M301.6 130 L301.79 131.98 L302.09 133.93 L302.48 135.86" stroke-opacity="0.24" stroke-width="3.3"/>
<path d="M302.48 135.86 L302.98 137.76 L303.57 139.63 L304.25 141.45" stroke-opacity="0.2" stroke-width="3.3"/>
<path d="M304.25 141.45 L305.02 143.24 L305.88 144.97 L306.82 146.65 L307.85 148.28" stroke-opacity="0.16" stroke-width="3.3"/>
<path d="M307.85 148.28 L308.95 149.84 L310.12 151.34 L311.37 152.78" stroke-opacity="0.2" stroke-width="3.3"/>
<path d="M311.37 152.78 L312.68 154.15" stroke-opacity="0.24" stroke-width="3.3"/>
<path d="M312.68 154.15 L314.05 155.45 L315.48 156.67" stroke-opacity="0.28" stroke-width="3.3"/>
<path d="M315.48 156.67 L316.97 157.82" stroke-opacity="0.32" stroke-width="3.3"/>
<path d="M316.97 157.82 L318.51 158.89" stroke-opacity="0.36" stroke-width="3.3"/>
<path d="M318.51 158.89 L320.09 159.89 L321.72 160.8" stroke-opacity="0.4" stroke-width="3.3"/>
<path d="M321.72 160.8 L323.39 161.63" stroke-opacity="0.44" stroke-width="3.3"/>
<path d="M323.39 161.63 L325.09 162.37 L326.82 163.03" stroke-opacity="0.48" stroke-width="3.3"/>
<path d="M326.82 163.03 L328.58 163.6 L330.37 164.09" stroke-opacity="0.52" stroke-width="3.3"/>
<path d="M330.37 164.09 L332.17 164.49 L333.99 164.8 L335.82 165.02 L337.66 165.16 L339.5 165.2 L341.34 165.16 L343.18 165.02 L345.01 164.8 L346.83 164.49 L348.63 164.09" stroke-opacity="0.56" stroke-width="3.3"/>
<path d="M348.63 164.09 L350.42 163.6 L352.18 163.03" stroke-opacity="0.52" stroke-width="3.3"/>
<path d="M352.18 163.03 L353.91 162.37 L355.61 161.63" stroke-opacity="0.48" stroke-width="3.3"/>
<path d="M355.61 161.63 L357.28 160.8" stroke-opacity="0.44" stroke-width="3.3"/>
<path d="M357.28 160.8 L358.91 159.89 L360.49 158.89" stroke-opacity="0.4" stroke-width="3.3"/>
<path d="M360.49 158.89 L362.03 157.82" stroke-opacity="0.36" stroke-width="3.3"/>
<path d="M362.03 157.82 L363.52 156.67" stroke-opacity="0.32" stroke-width="3.3"/>
<path d="M363.52 156.67 L364.95 155.45 L366.32 154.15" stroke-opacity="0.28" stroke-width="3.3"/>
<path d="M366.32 154.15 L367.63 152.78 L368.88 151.34" stroke-opacity="0.24" stroke-width="3.3"/>
<path d="M368.88 151.34 L370.05 149.84 L371.15 148.28" stroke-opacity="0.2" stroke-width="3.3"/>
<path d="M371.15 148.28 L372.18 146.65 L373.12 144.97 L373.98 143.24 L374.75 141.45 L375.43 139.63 L376.02 137.76 L376.52 135.86 L376.91 133.93 L377.21 131.98 L377.4 130" stroke-opacity="0.16" stroke-width="3.3"/>
<path d="M368.4 130 L368.5 128.48 L368.52 126.95 L368.46 125.41" stroke-opacity="0.24" stroke-width="3.3"/>
<path d="M368.46 125.41 L368.32 123.87 L368.09 122.34 L367.78 120.81 L367.38 119.3 L366.9 117.8" stroke-opacity="0.2" stroke-width="3.3"/>
<path d="M366.9 117.8 L366.34 116.32 L365.7 114.88 L364.97 113.46 L364.16 112.08 L363.28 110.74" stroke-opacity="0.16" stroke-width="3.3"/>
<path d="M363.28 110.74 L362.32 109.45 L361.29 108.21 L360.18 107.03 L359.01 105.91 L357.77 104.85 L356.47 103.86 L355.12 102.95 L353.71 102.11" stroke-opacity="0.2" stroke-width="3.3"/>
<path d="M353.71 102.11 L352.26 101.35 L350.76 100.67 L349.22 100.07 L347.65 99.57 L346.06 99.15 L344.44 98.82 L342.8 98.59 L341.15 98.45 L339.5 98.4 L337.85 98.45 L336.2 98.59 L334.56 98.82 L332.94 99.15 L331.35 99.57 L329.78 100.07 L328.24 100.67 L326.74 101.35 L325.29 102.11" stroke-opacity="0.24" stroke-width="3.3"/>
<path d="M325.29 102.11 L323.88 102.95 L322.53 103.86 L321.23 104.85 L319.99 105.91 L318.82 107.03 L317.71 108.21 L316.68 109.45" stroke-opacity="0.2" stroke-width="3.3"/>
<path d="M316.68 109.45 L315.72 110.74 L314.84 112.08 L314.03 113.46 L313.3 114.88 L312.66 116.32" stroke-opacity="0.16" stroke-width="3.3"/>
<path d="M312.66 116.32 L312.1 117.8 L311.62 119.3 L311.22 120.81" stroke-opacity="0.2" stroke-width="3.3"/>
<path d="M311.22 120.81 L310.91 122.34 L310.68 123.87 L310.54 125.41" stroke-opacity="0.24" stroke-width="3.3"/>
<path d="M310.54 125.41 L310.48 126.95 L310.5 128.48 L310.6 130 L310.78 131.51" stroke-opacity="0.28" stroke-width="3.3"/>
<path d="M310.78 131.51 L311.04 132.99 L311.37 134.45 L311.78 135.89" stroke-opacity="0.32" stroke-width="3.3"/>
<path d="M311.78 135.89 L312.26 137.3 L312.81 138.67 L313.42 140.01" stroke-opacity="0.28" stroke-width="3.3"/>
<path d="M313.42 140.01 L314.1 141.31 L314.84 142.56 L315.64 143.78 L316.5 144.94 L317.4 146.05 L318.36 147.12 L319.37 148.13 L320.41 149.09 L321.5 149.99" stroke-opacity="0.24" stroke-width="3.3"/>
<path d="M321.5 149.99 L322.63 150.83 L323.8 151.61 L324.99 152.34 L326.22 153 L327.47 153.61 L328.75 154.15" stroke-opacity="0.28" stroke-width="3.3"/>
<path d="M328.75 154.15 L330.05 154.63 L331.36 155.04 L332.7 155.4 L334.04 155.69 L335.4 155.91 L336.76 156.07 L338.13 156.17 L339.5 156.2 L340.87 156.17 L342.24 156.07 L343.6 155.91 L344.96 155.69 L346.3 155.4 L347.64 155.04 L348.95 154.63 L350.25 154.15" stroke-opacity="0.32" stroke-width="3.3"/>
<path d="M350.25 154.15 L351.53 153.61 L352.78 153 L354.01 152.34 L355.2 151.61 L356.37 150.83 L357.5 149.99 L358.59 149.09" stroke-opacity="0.28" stroke-width="3.3"/>
<path d="M358.59 149.09 L359.63 148.13 L360.64 147.12 L361.6 146.05 L362.5 144.94 L363.36 143.78" stroke-opacity="0.24" stroke-width="3.3"/>
<path d="M363.36 143.78 L364.16 142.56 L364.9 141.31 L365.58 140.01 L366.19 138.67 L366.74 137.3 L367.22 135.89 L367.63 134.45 L367.96 132.99 L368.22 131.51" stroke-opacity="0.28" stroke-width="3.3"/>
<path d="M368.22 131.51 L368.4 130" stroke-opacity="0.24" stroke-width="3.3"/>
<path d="M397.3 130 L397.08 126.98 L396.7 123.99" stroke-opacity="0.72" stroke-width="3.3"/>
<path d="M396.7 123.99 L396.17 121.02" stroke-opacity="0.68" stroke-width="3.3"/>
<path d="M396.17 121.02 L395.49 118.1" stroke-opacity="0.64" stroke-width="3.3"/>
<path d="M395.49 118.1 L394.66 115.22" stroke-opacity="0.6" stroke-width="3.3"/>
<path d="M394.66 115.22 L393.68 112.4" stroke-opacity="0.56" stroke-width="3.3"/>
<path d="M393.68 112.4 L392.56 109.63 L391.3 106.94" stroke-opacity="0.52" stroke-width="3.3"/>
<path d="M391.3 106.94 L389.91 104.32 L388.39 101.78 L386.74 99.32" stroke-opacity="0.48" stroke-width="3.3"/>
<path d="M386.74 99.32 L384.98 96.96 L383.1 94.69" stroke-opacity="0.44" stroke-width="3.3"/>
<path d="M383.1 94.69 L381.11 92.53 L379.02 90.48 L376.83 88.54 L374.55 86.71" stroke-opacity="0.48" stroke-width="3.3"/>
<path d="M374.55 86.71 L372.19 85.01 L369.75 83.42 L367.23 81.97" stroke-opacity="0.52" stroke-width="3.3"/>
<path d="M367.23 81.97 L364.65 80.64 L362.01 79.45 L359.31 78.39" stroke-opacity="0.56" stroke-width="3.3"/>
<path d="M359.31 78.39 L356.57 77.47 L353.78 76.69 L350.97 76.05 L348.12 75.55 L345.26 75.19" stroke-opacity="0.6" stroke-width="3.3"/>
<path d="M345.26 75.19 L342.38 74.97 L339.5 74.9 L336.62 74.97 L333.74 75.19 L330.88 75.55 L328.03 76.05" stroke-opacity="0.64" stroke-width="3.3"/>
<path d="M328.03 76.05 L325.22 76.69 L322.43 77.47 L319.69 78.39 L316.99 79.45 L314.35 80.64" stroke-opacity="0.6" stroke-width="3.3"/>
<path d="M314.35 80.64 L311.77 81.97 L309.25 83.42 L306.81 85.01" stroke-opacity="0.56" stroke-width="3.3"/>
<path d="M306.81 85.01 L304.45 86.71 L302.17 88.54" stroke-opacity="0.52" stroke-width="3.3"/>
<path d="M302.17 88.54 L299.98 90.48 L297.89 92.53" stroke-opacity="0.48" stroke-width="3.3"/>
<path d="M297.89 92.53 L295.9 94.69 L294.02 96.96" stroke-opacity="0.44" stroke-width="3.3"/>
<path d="M294.02 96.96 L292.26 99.32 L290.61 101.78 L289.09 104.32 L287.7 106.94" stroke-opacity="0.4" stroke-width="3.3"/>
<path d="M287.7 106.94 L286.44 109.63 L285.32 112.4 L284.34 115.22 L283.51 118.1 L282.83 121.02 L282.3 123.99 L281.92 126.98" stroke-opacity="0.36" stroke-width="3.3"/>
<path d="M281.92 126.98 L281.7 130 L281.64 133.03 L281.74 136.07 L281.99 139.11" stroke-opacity="0.32" stroke-width="3.3"/>
<path d="M281.99 139.11 L282.41 142.13 L282.99 145.14" stroke-opacity="0.28" stroke-width="3.3"/>
<path d="M282.99 145.14 L283.74 148.12" stroke-opacity="0.24" stroke-width="3.3"/>
<path d="M283.74 148.12 L284.64 151.06 L285.69 153.96" stroke-opacity="0.2" stroke-width="3.3"/>
<path d="M285.69 153.96 L286.91 156.8 L288.27 159.58 L289.79 162.28" stroke-opacity="0.16" stroke-width="3.3"/>
<path d="M289.79 162.28 L291.45 164.91 L293.26 167.44 L295.2 169.88 L297.28 172.22 L299.48 174.44 L301.8 176.55" stroke-opacity="0.12" stroke-width="3.3"/>
<path d="M301.8 176.55 L304.24 178.53 L306.79 180.37 L309.43 182.08 L312.17 183.64 L314.99 185.06 L317.88 186.31 L320.85 187.41" stroke-opacity="0.16" stroke-width="3.3"/>
<path d="M320.85 187.41 L323.87 188.35 L326.93 189.12 L330.04 189.72 L333.18 190.15 L336.33 190.41 L339.5 190.5 L342.67 190.41 L345.82 190.15 L348.96 189.72 L352.07 189.12 L355.13 188.35 L358.15 187.41 L361.12 186.31 L364.01 185.06 L366.83 183.64 L369.57 182.08 L372.21 180.37" stroke-opacity="0.2" stroke-width="3.3"/>
<path d="M372.21 180.37 L374.76 178.53 L377.2 176.55 L379.52 174.44" stroke-opacity="0.24" stroke-width="3.3"/>
<path d="M379.52 174.44 L381.72 172.22" stroke-opacity="0.28" stroke-width="3.3"/>
<path d="M381.72 172.22 L383.8 169.88 L385.74 167.44" stroke-opacity="0.32" stroke-width="3.3"/>
<path d="M385.74 167.44 L387.55 164.91" stroke-opacity="0.36" stroke-width="3.3"/>
<path d="M387.55 164.91 L389.21 162.28" stroke-opacity="0.4" stroke-width="3.3"/>
<path d="M389.21 162.28 L390.73 159.58" stroke-opacity="0.44" stroke-width="3.3"/>
<path d="M390.73 159.58 L392.09 156.8" stroke-opacity="0.52" stroke-width="3.3"/>
<path d="M392.09 156.8 L393.31 153.96" stroke-opacity="0.56" stroke-width="3.3"/>
<path d="M393.31 153.96 L394.36 151.06" stroke-opacity="0.6" stroke-width="3.3"/>
<path d="M394.36 151.06 L395.26 148.12" stroke-opacity="0.64" stroke-width="3.3"/>
<path d="M395.26 148.12 L396.01 145.14" stroke-opacity="0.68" stroke-width="3.3"/>
<path d="M396.01 145.14 L396.59 142.13" stroke-opacity="0.72" stroke-width="3.3"/>
<path d="M396.59 142.13 L397.01 139.11 L397.26 136.07 L397.36 133.03 L397.3 130" stroke-opacity="0.76" stroke-width="3.3"/>
<path d="M387.2 130 L386.99 127.51" stroke-opacity="0.84" stroke-width="3.3"/>
<path d="M386.99 127.51 L386.66 125.04" stroke-opacity="0.76" stroke-width="3.3"/>
<path d="M386.66 125.04 L386.2 122.6" stroke-opacity="0.68" stroke-width="3.3"/>
<path d="M386.2 122.6 L385.61 120.2" stroke-opacity="0.6" stroke-width="3.3"/>
<path d="M385.61 120.2 L384.9 117.84" stroke-opacity="0.52" stroke-width="3.3"/>
<path d="M384.9 117.84 L384.07 115.52" stroke-opacity="0.44" stroke-width="3.3"/>
<path d="M384.07 115.52 L383.13 113.25" stroke-opacity="0.36" stroke-width="3.3"/>
<path d="M383.13 113.25 L382.07 111.05" stroke-opacity="0.28" stroke-width="3.3"/>
<path d="M382.07 111.05 L380.91 108.9" stroke-opacity="0.24" stroke-width="3.3"/>
<path d="M380.91 108.9 L379.64 106.83" stroke-opacity="0.2" stroke-width="3.3"/>
<path d="M379.64 106.83 L378.27 104.82" stroke-opacity="0.16" stroke-width="3.3"/>
<path d="M378.27 104.82 L376.81 102.9 L375.25 101.05 L373.61 99.29" stroke-opacity="0.12" stroke-width="3.3"/>
<path d="M373.61 99.29 L371.88 97.62 L370.07 96.04 L368.2 94.56 L366.25 93.18 L364.25 91.89 L362.18 90.72 L360.06 89.64" stroke-opacity="0.08" stroke-width="3.3"/>
<path d="M360.06 89.64 L357.9 88.68 L355.69 87.82 L353.45 87.08 L351.17 86.44 L348.87 85.93 L346.54 85.52 L344.21 85.23 L341.86 85.06 L339.5 85 L337.14 85.06 L334.79 85.23 L332.46 85.52 L330.13 85.93 L327.83 86.44 L325.55 87.08 L323.31 87.82 L321.1 88.68 L318.94 89.64 L316.82 90.72 L314.75 91.89 L312.75 93.18 L310.8 94.56 L308.93 96.04 L307.12 97.62 L305.39 99.29 L303.75 101.05 L302.19 102.9" stroke-opacity="0.12" stroke-width="3.3"/>
<path d="M302.19 102.9 L300.73 104.82" stroke-opacity="0.16" stroke-width="3.3"/>
<path d="M300.73 104.82 L299.36 106.83" stroke-opacity="0.2" stroke-width="3.3"/>
<path d="M299.36 106.83 L298.09 108.9" stroke-opacity="0.24" stroke-width="3.3"/>
<path d="M298.09 108.9 L296.93 111.05" stroke-opacity="0.28" stroke-width="3.3"/>
<path d="M296.93 111.05 L295.87 113.25" stroke-opacity="0.36" stroke-width="3.3"/>
<path d="M295.87 113.25 L294.93 115.52" stroke-opacity="0.4" stroke-width="3.3"/>
<path d="M294.93 115.52 L294.1 117.84" stroke-opacity="0.52" stroke-width="3.3"/>
<path d="M294.1 117.84 L293.39 120.2" stroke-opacity="0.6" stroke-width="3.3"/>
<path d="M293.39 120.2 L292.8 122.6" stroke-opacity="0.68" stroke-width="3.3"/>
<path d="M292.8 122.6 L292.34 125.04" stroke-opacity="0.76" stroke-width="3.3"/>
<path d="M292.34 125.04 L292.01 127.51" stroke-opacity="0.84" stroke-width="3.3"/>
<path d="M292.01 127.51 L291.8 130" stroke-opacity="0.92" stroke-width="3.3"/>
<path d="M291.8 130 L291.72 132.5" stroke-opacity="0.96" stroke-width="3.3"/>
<path d="M291.72 132.5 L291.78 135.02" stroke-opacity="0.92" stroke-width="3.3"/>
<path d="M291.78 135.02 L291.97 137.53" stroke-opacity="0.88" stroke-width="3.3"/>
<path d="M291.97 137.53 L292.29 140.03" stroke-opacity="0.84" stroke-width="3.3"/>
<path d="M292.29 140.03 L292.75 142.53" stroke-opacity="0.76" stroke-width="3.3"/>
<path d="M292.75 142.53 L293.34 145" stroke-opacity="0.68" stroke-width="3.3"/>
<path d="M293.34 145 L294.06 147.44" stroke-opacity="0.6" stroke-width="3.3"/>
<path d="M294.06 147.44 L294.92 149.85" stroke-opacity="0.52" stroke-width="3.3"/>
<path d="M294.92 149.85 L295.91 152.21" stroke-opacity="0.44" stroke-width="3.3"/>
<path d="M295.91 152.21 L297.02 154.53" stroke-opacity="0.4" stroke-width="3.3"/>
<path d="M297.02 154.53 L298.26 156.78" stroke-opacity="0.36" stroke-width="3.3"/>
<path d="M298.26 156.78 L299.63 158.97 L301.11 161.09" stroke-opacity="0.32" stroke-width="3.3"/>
<path d="M301.11 161.09 L302.71 163.13 L304.42 165.08 L306.24 166.94 L308.16 168.7" stroke-opacity="0.28" stroke-width="3.3"/>
<path d="M308.16 168.7 L310.18 170.36 L312.29 171.9 L314.48 173.33 L316.75 174.64 L319.1 175.83 L321.5 176.89" stroke-opacity="0.32" stroke-width="3.3"/>
<path d="M321.5 176.89 L323.97 177.81 L326.48 178.59 L329.03 179.24 L331.62 179.75 L334.23 180.11 L336.86 180.33 L339.5 180.4 L342.14 180.33 L344.77 180.11 L347.38 179.75 L349.97 179.24 L352.52 178.59 L355.03 177.81 L357.5 176.89 L359.9 175.83 L362.25 174.64 L364.52 173.33 L366.71 171.9" stroke-opacity="0.36" stroke-width="3.3"/>
<path d="M366.71 171.9 L368.82 170.36 L370.84 168.7" stroke-opacity="0.32" stroke-width="3.3"/>
<path d="M370.84 168.7 L372.76 166.94 L374.58 165.08 L376.29 163.13 L377.89 161.09" stroke-opacity="0.36" stroke-width="3.3"/>
<path d="M377.89 161.09 L379.37 158.97" stroke-opacity="0.4" stroke-width="3.3"/>
<path d="M379.37 158.97 L380.74 156.78" stroke-opacity="0.44" stroke-width="3.3"/>
<path d="M380.74 156.78 L381.98 154.53" stroke-opacity="0.48" stroke-width="3.3"/>
<path d="M381.98 154.53 L383.09 152.21" stroke-opacity="0.52" stroke-width="3.3"/>
<path d="M383.09 152.21 L384.08 149.85" stroke-opacity="0.6" stroke-width="3.3"/>
<path d="M384.08 149.85 L384.94 147.44" stroke-opacity="0.64" stroke-width="3.3"/>
<path d="M384.94 147.44 L385.66 145" stroke-opacity="0.72" stroke-width="3.3"/>
<path d="M385.66 145 L386.25 142.53" stroke-opacity="0.76" stroke-width="3.3"/>
<path d="M386.25 142.53 L386.71 140.03" stroke-opacity="0.8" stroke-width="3.3"/>
<path d="M386.71 140.03 L387.03 137.53" stroke-opacity="0.84" stroke-width="3.3"/>
<path d="M387.03 137.53 L387.22 135.02 L387.28 132.5 L387.2 130" stroke-opacity="0.88" stroke-width="3.3"/>
<path d="M377.4 130 L377.21 128.02" stroke-opacity="0.16" stroke-width="3.3"/>
<path d="M377.21 128.02 L376.91 126.07 L376.52 124.14 L376.02 122.24 L375.43 120.37 L374.75 118.55 L373.98 116.76 L373.12 115.03 L372.18 113.35 L371.15 111.73" stroke-opacity="0.12" stroke-width="3.3"/>
<path d="M371.15 111.73 L370.05 110.16 L368.88 108.66" stroke-opacity="0.16" stroke-width="3.3"/>
<path d="M368.88 108.66 L367.63 107.22" stroke-opacity="0.2" stroke-width="3.3"/>
<path d="M367.63 107.22 L366.32 105.85 L364.95 104.55" stroke-opacity="0.24" stroke-width="3.3"/>
<path d="M364.95 104.55 L363.52 103.33" stroke-opacity="0.28" stroke-width="3.3"/>
<path d="M363.52 103.33 L362.03 102.18 L360.49 101.11" stroke-opacity="0.32" stroke-width="3.3"/>
<path d="M360.49 101.11 L358.91 100.11" stroke-opacity="0.36" stroke-width="3.3"/>
<path d="M358.91 100.11 L357.28 99.2" stroke-opacity="0.4" stroke-width="3.3"/>
<path d="M357.28 99.2 L355.61 98.37 L353.91 97.63" stroke-opacity="0.44" stroke-width="3.3"/>
<path d="M353.91 97.63 L352.18 96.97 L350.42 96.4" stroke-opacity="0.48" stroke-width="3.3"/>
<path d="M350.42 96.4 L348.63 95.91 L346.83 95.51 L345.01 95.2" stroke-opacity="0.52" stroke-width="3.3"/>
<path d="M345.01 95.2 L343.18 94.98 L341.34 94.84 L339.5 94.8 L337.66 94.84 L335.82 94.98 L333.99 95.2" stroke-opacity="0.56" stroke-width="3.3"/>
<path d="M333.99 95.2 L332.17 95.51 L330.37 95.91 L328.58 96.4" stroke-opacity="0.52" stroke-width="3.3"/>
<path d="M328.58 96.4 L326.82 96.97 L325.09 97.63" stroke-opacity="0.48" stroke-width="3.3"/>
<path d="M325.09 97.63 L323.39 98.37 L321.72 99.2" stroke-opacity="0.44" stroke-width="3.3"/>
<path d="M321.72 99.2 L320.09 100.11" stroke-opacity="0.4" stroke-width="3.3"/>
<path d="M320.09 100.11 L318.51 101.11" stroke-opacity="0.36" stroke-width="3.3"/>
<path d="M318.51 101.11 L316.97 102.18 L315.48 103.33" stroke-opacity="0.32" stroke-width="3.3"/>
<path d="M315.48 103.33 L314.05 104.55" stroke-opacity="0.28" stroke-width="3.3"/>
<path d="M314.05 104.55 L312.68 105.85 L311.37 107.22" stroke-opacity="0.24" stroke-width="3.3"/>
<path d="M311.37 107.22 L310.12 108.66 L308.95 110.16" stroke-opacity="0.2" stroke-width="3.3"/>
<path d="M308.95 110.16 L307.85 111.73 L306.82 113.35 L305.88 115.03 L305.02 116.76 L304.25 118.55 L303.57 120.37 L302.98 122.24" stroke-opacity="0.16" stroke-width="3.3"/>
<path d="M302.98 122.24 L302.48 124.14 L302.09 126.07" stroke-opacity="0.2" stroke-width="3.3"/>
<path d="M302.09 126.07 L301.79 128.02 L301.6 130" stroke-opacity="0.24" stroke-width="3.3"/>
<path d="M301.6 130 L301.51 131.99 L301.53 133.99 L301.65 135.99 L301.88 138 L302.22 139.99 L302.66 141.97" stroke-opacity="0.28" stroke-width="3.3"/>
<path d="M302.66 141.97 L303.21 143.93 L303.87 145.86 L304.64 147.76 L305.51 149.62 L306.48 151.44 L307.55 153.21 L308.73 154.92 L309.99 156.57 L311.35 158.15 L312.8 159.66 L314.33 161.08 L315.94 162.43 L317.62 163.68" stroke-opacity="0.24" stroke-width="3.3"/>
<path d="M317.62 163.68 L319.38 164.85 L321.2 165.91 L323.08 166.88 L325.01 167.74 L326.99 168.49 L329.02 169.13 L331.07 169.66 L333.15 170.07 L335.26 170.36 L337.38 170.54 L339.5 170.6 L341.62 170.54 L343.74 170.36 L345.85 170.07 L347.93 169.66 L349.98 169.13 L352.01 168.49 L353.99 167.74 L355.92 166.88 L357.8 165.91 L359.62 164.85 L361.38 163.68 L363.06 162.43" stroke-opacity="0.28" stroke-width="3.3"/>
<path d="M363.06 162.43 L364.67 161.08 L366.2 159.66 L367.65 158.15 L369.01 156.57 L370.27 154.92 L371.45 153.21 L372.52 151.44 L373.49 149.63 L374.36 147.76 L375.13 145.86 L375.79 143.93 L376.34 141.97 L376.78 139.99" stroke-opacity="0.24" stroke-width="3.3"/>
<path d="M376.78 139.99 L377.12 138 L377.35 135.99 L377.47 133.99 L377.49 131.99" stroke-opacity="0.2" stroke-width="3.3"/>
<path d="M377.49 131.99 L377.4 130" stroke-opacity="0.16" stroke-width="3.3"/>
<path d="M368.4 130 L368.22 128.49 L367.96 127.01 L367.63 125.55 L367.22 124.11 L366.74 122.7 L366.19 121.33 L365.58 119.99" stroke-opacity="0.24" stroke-width="3.3"/>
<path d="M365.58 119.99 L364.9 118.69 L364.16 117.44 L363.36 116.23" stroke-opacity="0.2" stroke-width="3.3"/>
<path d="M363.36 116.23 L362.5 115.06 L361.6 113.95 L360.64 112.88 L359.63 111.87 L358.59 110.91 L357.5 110.01 L356.37 109.17" stroke-opacity="0.24" stroke-width="3.3"/>
<path d="M356.37 109.17 L355.2 108.39 L354.01 107.66 L352.78 107 L351.53 106.39 L350.25 105.85" stroke-opacity="0.28" stroke-width="3.3"/>
<path d="M350.25 105.85 L348.95 105.37 L347.64 104.96 L346.3 104.6 L344.96 104.31 L343.6 104.09 L342.24 103.93 L340.87 103.83 L339.5 103.8 L338.13 103.83 L336.76 103.93 L335.4 104.09 L334.04 104.31 L332.7 104.6 L331.36 104.96 L330.05 105.37 L328.75 105.85" stroke-opacity="0.32" stroke-width="3.3"/>
<path d="M328.75 105.85 L327.47 106.39 L326.22 107 L324.99 107.66 L323.8 108.39 L322.63 109.17" stroke-opacity="0.28" stroke-width="3.3"/>
<path d="M322.63 109.17 L321.5 110.01 L320.41 110.91 L319.37 111.87 L318.36 112.88 L317.4 113.95 L316.5 115.06 L315.64 116.23 L314.84 117.44 L314.1 118.69 L313.42 119.99 L312.81 121.33 L312.26 122.7" stroke-opacity="0.24" stroke-width="3.3"/>
<path d="M312.26 122.7 L311.78 124.11 L311.37 125.55 L311.04 127.01 L310.78 128.49 L310.6 130 L310.5 131.52 L310.48 133.05 L310.54 134.59 L310.68 136.13 L310.91 137.66" stroke-opacity="0.28" stroke-width="3.3"/>
<path d="M310.91 137.66 L311.22 139.19 L311.62 140.7" stroke-opacity="0.24" stroke-width="3.3"/>
<path d="M311.62 140.7 L312.1 142.2 L312.66 143.68 L313.3 145.12 L314.03 146.54 L314.84 147.92 L315.72 149.26 L316.68 150.55 L317.71 151.79 L318.82 152.97 L319.99 154.09 L321.23 155.15 L322.53 156.14 L323.88 157.05 L325.29 157.89" stroke-opacity="0.2" stroke-width="3.3"/>
<path d="M325.29 157.89 L326.74 158.65 L328.24 159.33 L329.78 159.93 L331.35 160.43 L332.94 160.85 L334.56 161.18 L336.2 161.41 L337.85 161.55 L339.5 161.6 L341.15 161.55 L342.8 161.41 L344.44 161.18 L346.06 160.85 L347.65 160.43 L349.22 159.93 L350.76 159.33 L352.26 158.65 L353.71 157.89" stroke-opacity="0.24" stroke-width="3.3"/>
<path d="M353.71 157.89 L355.12 157.05 L356.47 156.14 L357.77 155.15 L359.01 154.09 L360.18 152.97 L361.29 151.79 L362.32 150.55 L363.28 149.26 L364.16 147.92 L364.97 146.54 L365.7 145.12 L366.34 143.68" stroke-opacity="0.2" stroke-width="3.3"/>
<path d="M366.34 143.68 L366.9 142.2 L367.38 140.7 L367.78 139.19 L368.09 137.66" stroke-opacity="0.24" stroke-width="3.3"/>
<path d="M368.09 137.66 L368.32 136.13 L368.46 134.59 L368.52 133.05" stroke-opacity="0.28" stroke-width="3.3"/>
<path d="M368.52 133.05 L368.5 131.52 L368.4 130" stroke-opacity="0.24" stroke-width="3.3"/>
<path d="M387.15 130 L387.08 127.51" stroke-opacity="0.84" stroke-width="2.6"/>
<path d="M387.08 127.51 L386.89 125.02" stroke-opacity="0.76" stroke-width="2.6"/>
<path d="M386.89 125.02 L386.56 122.55" stroke-opacity="0.64" stroke-width="2.6"/>
<path d="M386.56 122.55 L386.11 120.09" stroke-opacity="0.52" stroke-width="2.6"/>
<path d="M386.11 120.09 L385.53 117.67" stroke-opacity="0.4" stroke-width="2.6"/>
<path d="M385.53 117.67 L384.82 115.28" stroke-opacity="0.32" stroke-width="2.6"/>
<path d="M384.82 115.28 L383.99 112.92" stroke-opacity="0.24" stroke-width="2.6"/>
<path d="M383.99 112.92 L383.03 110.62" stroke-opacity="0.16" stroke-width="2.6"/>
<path d="M383.03 110.62 L381.96 108.37" stroke-opacity="0.12" stroke-width="2.6"/>
<path d="M381.96 108.37 L380.77 106.18" stroke-opacity="0.08" stroke-width="2.6"/>
<path d="M380.77 106.18 L379.46 104.05 L378.05 101.99" stroke-opacity="0.04" stroke-width="2.6"/>
<path d="M374.91 161.88 L376.53 159.99 L378.05 158.01" stroke-opacity="0.04" stroke-width="2.6"/>
<path d="M378.05 158.01 L379.46 155.95" stroke-opacity="0.08" stroke-width="2.6"/>
<path d="M379.46 155.95 L380.77 153.83" stroke-opacity="0.12" stroke-width="2.6"/>
<path d="M380.77 153.83 L381.96 151.63" stroke-opacity="0.2" stroke-width="2.6"/>
<path d="M381.96 151.63 L383.03 149.38" stroke-opacity="0.28" stroke-width="2.6"/>
<path d="M383.03 149.38 L383.99 147.08" stroke-opacity="0.4" stroke-width="2.6"/>
<path d="M383.99 147.08 L384.82 144.72" stroke-opacity="0.48" stroke-width="2.6"/>
<path d="M384.82 144.72 L385.53 142.33" stroke-opacity="0.6" stroke-width="2.6"/>
<path d="M385.53 142.33 L386.11 139.91" stroke-opacity="0.72" stroke-width="2.6"/>
<path d="M386.11 139.91 L386.56 137.45" stroke-opacity="0.8" stroke-width="2.6"/>
<path d="M386.56 137.45 L386.89 134.98 L387.08 132.49 L387.15 130" stroke-opacity="0.88" stroke-width="2.6"/>
<path d="M299.45 103.99 L298.15 106.12 L296.95 108.32" stroke-opacity="0.04" stroke-width="2.6"/>
<path d="M296.95 108.32 L295.88 110.58" stroke-opacity="0.08" stroke-width="2.6"/>
<path d="M295.88 110.58 L294.92 112.89" stroke-opacity="0.16" stroke-width="2.6"/>
<path d="M294.92 112.89 L294.09 115.24" stroke-opacity="0.24" stroke-width="2.6"/>
<path d="M294.09 115.24 L293.38 117.64" stroke-opacity="0.32" stroke-width="2.6"/>
<path d="M293.38 117.64 L292.79 120.07" stroke-opacity="0.44" stroke-width="2.6"/>
<path d="M292.79 120.07 L292.34 122.53" stroke-opacity="0.6" stroke-width="2.6"/>
<path d="M292.34 122.53 L292.01 125.01" stroke-opacity="0.72" stroke-width="2.6"/>
<path d="M292.01 125.01 L291.82 127.5" stroke-opacity="0.84" stroke-width="2.6"/>
<path d="M291.82 127.5 L291.75 130" stroke-opacity="0.92" stroke-width="2.6"/>
<path d="M291.75 130 L291.82 132.5" stroke-opacity="0.96" stroke-width="2.6"/>
<path d="M291.82 132.5 L292.01 134.99" stroke-opacity="0.92" stroke-width="2.6"/>
<path d="M292.01 134.99 L292.34 137.47" stroke-opacity="0.88" stroke-width="2.6"/>
<path d="M292.34 137.47 L292.79 139.93" stroke-opacity="0.76" stroke-width="2.6"/>
<path d="M292.79 139.93 L293.38 142.36" stroke-opacity="0.64" stroke-width="2.6"/>
<path d="M293.38 142.36 L294.09 144.76" stroke-opacity="0.48" stroke-width="2.6"/>
<path d="M294.09 144.76 L294.92 147.11" stroke-opacity="0.36" stroke-width="2.6"/>
<path d="M294.92 147.11 L295.88 149.42" stroke-opacity="0.24" stroke-width="2.6"/>
<path d="M295.88 149.42 L296.95 151.68" stroke-opacity="0.16" stroke-width="2.6"/>
<path d="M296.95 151.68 L298.15 153.88" stroke-opacity="0.12" stroke-width="2.6"/>
<path d="M298.15 153.88 L299.45 156.01" stroke-opacity="0.08" stroke-width="2.6"/>
<path d="M299.45 156.01 L300.87 158.07" stroke-opacity="0.04" stroke-width="2.6"/>
<path d="M397.3 130 L397.22 126.97" stroke-opacity="0.6" stroke-width="2.6"/>
<path d="M397.22 126.97 L396.98 123.96" stroke-opacity="0.48" stroke-width="2.6"/>
<path d="M396.98 123.96 L396.59 120.96" stroke-opacity="0.4" stroke-width="2.6"/>
<path d="M396.59 120.96 L396.04 117.98" stroke-opacity="0.32" stroke-width="2.6"/>
<path d="M396.04 117.98 L395.33 115.04" stroke-opacity="0.24" stroke-width="2.6"/>
<path d="M395.33 115.04 L394.47 112.14" stroke-opacity="0.2" stroke-width="2.6"/>
<path d="M394.47 112.14 L393.46 109.29" stroke-opacity="0.16" stroke-width="2.6"/>
<path d="M393.46 109.29 L392.3 106.49" stroke-opacity="0.12" stroke-width="2.6"/>
<path d="M392.3 106.49 L391 103.76" stroke-opacity="0.08" stroke-width="2.6"/>
<path d="M391 103.76 L389.56 101.1 L387.98 98.52" stroke-opacity="0.04" stroke-width="2.6"/>
<path d="M370.98 178.48 L373.47 176.76 L375.87 174.92" stroke-opacity="0.04" stroke-width="2.6"/>
<path d="M375.87 174.92 L378.18 172.95" stroke-opacity="0.08" stroke-width="2.6"/>
<path d="M378.18 172.95 L380.37 170.87" stroke-opacity="0.12" stroke-width="2.6"/>
<path d="M380.37 170.87 L382.45 168.68" stroke-opacity="0.16" stroke-width="2.6"/>
<path d="M382.45 168.68 L384.42 166.37" stroke-opacity="0.2" stroke-width="2.6"/>
<path d="M384.42 166.37 L386.26 163.97" stroke-opacity="0.24" stroke-width="2.6"/>
<path d="M386.26 163.97 L387.98 161.48" stroke-opacity="0.32" stroke-width="2.6"/>
<path d="M387.98 161.48 L389.56 158.9" stroke-opacity="0.4" stroke-width="2.6"/>
<path d="M389.56 158.9 L391 156.24" stroke-opacity="0.48" stroke-width="2.6"/>
<path d="M391 156.24 L392.3 153.51" stroke-opacity="0.6" stroke-width="2.6"/>
<path d="M392.3 153.51 L393.46 150.71" stroke-opacity="0.68" stroke-width="2.6"/>
<path d="M393.46 150.71 L394.47 147.86" stroke-opacity="0.72" stroke-width="2.6"/>
<path d="M394.47 147.86 L395.33 144.96" stroke-opacity="0.76" stroke-width="2.6"/>
<path d="M395.33 144.96 L396.04 142.02 L396.59 139.04" stroke-opacity="0.8" stroke-width="2.6"/>
<path d="M396.59 139.04 L396.98 136.04" stroke-opacity="0.76" stroke-width="2.6"/>
<path d="M396.98 136.04 L397.22 133.03" stroke-opacity="0.72" stroke-width="2.6"/>
<path d="M397.22 133.03 L397.3 130" stroke-opacity="0.68" stroke-width="2.6"/>
<path d="M398.42 117.48 L397.66 114.42 L396.72 111.41 L395.63 108.45 L394.37 105.57 L392.97 102.76 L391.41 100.03 L389.71 97.4 L387.87 94.86 L385.89 92.43" stroke-opacity="0.04" stroke-width="2.8"/>
<path d="M385.89 92.43 L383.8 90.12 L381.58 87.92 L379.25 85.85 L376.82 83.92 L374.29 82.12 L371.67 80.46 L368.98 78.95 L366.21 77.59 L363.37 76.38 L360.49 75.32 L357.56 74.43 L354.59 73.69 L351.59 73.11 L348.58 72.69 L345.55 72.43 L342.52 72.34 L339.5 72.4 L336.49 72.62 L333.51 73 L330.56 73.53" stroke-opacity="0.08" stroke-width="2.8"/>
<path d="M330.56 73.53 L327.64 74.21 L324.77 75.04 L321.96 76.01 L319.2 77.13 L316.52 78.38 L313.91 79.77 L311.38 81.29 L308.93 82.93 L306.58 84.68 L304.32 86.56" stroke-opacity="0.12" stroke-width="2.8"/>
<path d="M304.32 86.56 L302.17 88.54 L300.12 90.62 L298.19 92.8 L296.37 95.07 L294.67 97.43 L293.09 99.86 L291.64 102.37 L290.32 104.94" stroke-opacity="0.08" stroke-width="2.8"/>
<path d="M290.32 104.94 L289.13 107.58 L288.08 110.26 L287.16 112.99 L286.38 115.77 L285.74 118.57" stroke-opacity="0.04" stroke-width="2.8"/>
<path d="M285.74 141.43 L286.38 144.23 L287.16 147.01 L288.08 149.74 L289.13 152.42 L290.32 155.06 L291.64 157.63 L293.09 160.14 L294.67 162.57 L296.37 164.93" stroke-opacity="0.04" stroke-width="2.8"/>
<path d="M296.37 164.93 L298.19 167.2 L300.12 169.38 L302.17 171.46 L304.32 173.44 L306.58 175.32 L308.93 177.07 L311.38 178.71 L313.91 180.23 L316.52 181.62 L319.2 182.87 L321.96 183.99 L324.77 184.96 L327.64 185.79 L330.56 186.47 L333.51 187 L336.49 187.38 L339.5 187.6 L342.52 187.66 L345.55 187.57 L348.58 187.31" stroke-opacity="0.08" stroke-width="2.8"/>
<path d="M348.58 187.31 L351.59 186.89 L354.59 186.31 L357.56 185.57 L360.49 184.68 L363.37 183.62 L366.21 182.41 L368.98 181.05 L371.67 179.54 L374.29 177.88 L376.82 176.08" stroke-opacity="0.12" stroke-width="2.8"/>
<path d="M376.82 176.08 L379.25 174.15 L381.58 172.08 L383.8 169.88 L385.89 167.57 L387.87 165.14 L389.71 162.6 L391.41 159.97 L392.97 157.24" stroke-opacity="0.08" stroke-width="2.8"/>
<path d="M392.97 157.24 L394.37 154.43 L395.63 151.55 L396.72 148.59 L397.66 145.58 L398.42 142.52" stroke-opacity="0.04" stroke-width="2.8"/>
<path d="M388.29 116.93 L387.5 114.4 L386.57 111.93 L385.51 109.51 L384.32 107.16 L383.01 104.88 L381.57 102.68 L380.02 100.56 L378.36 98.54 L376.59 96.61 L374.72 94.78 L372.76 93.06 L370.71 91.45 L368.59 89.96 L366.39 88.59 L364.12 87.35" stroke-opacity="0.04" stroke-width="2.8"/>
<path d="M364.12 87.35 L361.8 86.23 L359.43 85.24 L357.01 84.38 L354.56 83.65 L352.08 83.06 L349.58 82.6 L347.06 82.27 L344.54 82.08 L342.01 82.02 L339.5 82.1 L337 82.31 L334.52 82.64 L332.07 83.11 L329.66 83.7 L327.28 84.41 L324.96 85.24 L322.68 86.18 L320.46 87.24 L318.31 88.41 L316.23 89.69 L314.21 91.06 L312.28 92.53 L310.42 94.1 L308.66 95.75 L306.98 97.48 L305.39 99.29 L303.91 101.18 L302.52 103.13 L301.23 105.15" stroke-opacity="0.08" stroke-width="2.8"/>
<path d="M301.23 105.15 L300.04 107.22 L298.96 109.35 L297.99 111.52 L297.13 113.74 L296.39 115.99 L295.75 118.28 L295.23 120.59" stroke-opacity="0.04" stroke-width="2.8"/>
<path d="M295.75 141.72 L296.39 144.01 L297.13 146.26 L297.99 148.48 L298.96 150.65 L300.04 152.78 L301.23 154.85 L302.52 156.87 L303.91 158.82 L305.39 160.71 L306.98 162.52 L308.66 164.25 L310.42 165.9 L312.28 167.47 L314.21 168.94 L316.22 170.31" stroke-opacity="0.04" stroke-width="2.8"/>
<path d="M316.22 170.31 L318.31 171.59 L320.46 172.76 L322.68 173.82 L324.96 174.76 L327.28 175.59 L329.66 176.3 L332.07 176.89 L334.52 177.36 L337 177.69 L339.5 177.9 L342.01 177.98 L344.54 177.92 L347.06 177.73 L349.58 177.4 L352.08 176.94 L354.56 176.35 L357.01 175.62 L359.43 174.76 L361.8 173.77 L364.12 172.65 L366.39 171.41 L368.59 170.04 L370.71 168.55 L372.76 166.94 L374.72 165.22 L376.59 163.39 L378.36 161.46 L380.02 159.44 L381.57 157.32" stroke-opacity="0.08" stroke-width="2.8"/>
<path d="M381.57 157.32 L383.01 155.12 L384.32 152.84 L385.51 150.49 L386.57 148.07 L387.5 145.6 L388.29 143.07 L388.94 140.51" stroke-opacity="0.04" stroke-width="2.8"/>
<path d="M379.76 123.62 L379.35 121.53 L378.82 119.46 L378.18 117.43 L377.42 115.44 L376.56 113.5 L375.59 111.61" stroke-opacity="0.04" stroke-width="2.8"/>
<path d="M375.59 111.61 L374.52 109.78 L373.35 108.02 L372.09 106.32 L370.74 104.7 L369.3 103.16 L367.79 101.71 L366.2 100.34 L364.55 99.07 L362.83 97.89 L361.05 96.81 L359.23 95.84 L357.35 94.96 L355.44 94.19" stroke-opacity="0.08" stroke-width="2.8"/>
<path d="M355.44 94.19 L353.5 93.53 L351.53 92.97 L349.54 92.52 L347.54 92.18 L345.53 91.95 L343.51 91.83 L341.5 91.81 L339.5 91.9 L337.51 92.09 L335.55 92.39 L333.61 92.79 L331.7 93.28 L329.82 93.87 L327.98 94.56" stroke-opacity="0.12" stroke-width="2.8"/>
<path d="M327.98 94.56 L326.19 95.33 L324.45 96.2 L322.76 97.14 L321.12 98.17 L319.55 99.28" stroke-opacity="0.16" stroke-width="2.8"/>
<path d="M319.55 99.28 L318.04 100.46 L316.59 101.71 L315.22 103.03 L313.91 104.41 L312.68 105.85 L311.52 107.34 L310.44 108.89 L309.45 110.48" stroke-opacity="0.12" stroke-width="2.8"/>
<path d="M309.45 110.48 L308.53 112.12 L307.7 113.8 L306.95 115.51 L306.28 117.25" stroke-opacity="0.08" stroke-width="2.8"/>
<path d="M306.28 117.25 L305.71 119.02 L305.22 120.81 L304.82 122.63 L304.5 124.46" stroke-opacity="0.04" stroke-width="2.8"/>
<path d="M304.5 135.54 L304.82 137.37 L305.22 139.19 L305.71 140.98 L306.28 142.75 L306.95 144.49 L307.7 146.2" stroke-opacity="0.04" stroke-width="2.8"/>
<path d="M307.7 146.2 L308.53 147.88 L309.45 149.52 L310.44 151.11 L311.52 152.66 L312.68 154.15 L313.91 155.59 L315.22 156.97 L316.59 158.29 L318.04 159.54 L319.55 160.72 L321.12 161.83 L322.76 162.86 L324.45 163.8" stroke-opacity="0.08" stroke-width="2.8"/>
<path d="M324.45 163.8 L326.19 164.67 L327.98 165.44 L329.82 166.13 L331.7 166.72 L333.61 167.21 L335.55 167.61 L337.51 167.91 L339.5 168.1 L341.5 168.19 L343.51 168.17 L345.53 168.05 L347.54 167.82 L349.54 167.48 L351.53 167.03" stroke-opacity="0.12" stroke-width="2.8"/>
<path d="M351.53 167.03 L353.5 166.47 L355.44 165.81 L357.35 165.04 L359.23 164.16 L361.05 163.19" stroke-opacity="0.16" stroke-width="2.8"/>
<path d="M361.05 163.19 L362.83 162.11 L364.55 160.93 L366.2 159.66 L367.79 158.29 L369.3 156.84 L370.74 155.3 L372.09 153.68 L373.35 151.98" stroke-opacity="0.12" stroke-width="2.8"/>
<path d="M373.35 151.98 L374.52 150.22 L375.59 148.39 L376.56 146.5 L377.42 144.56" stroke-opacity="0.08" stroke-width="2.8"/>
<path d="M377.42 144.56 L378.18 142.57 L378.82 140.54 L379.35 138.47 L379.76 136.38" stroke-opacity="0.04" stroke-width="2.8"/>
<path d="M371.48 121.43 L370.95 119.78 L370.33 118.17 L369.62 116.59 L368.82 115.06 L367.94 113.58 L366.98 112.16 L365.94 110.79 L364.83 109.49 L363.66 108.25 L362.42 107.08 L361.12 105.99 L359.76 104.98 L358.36 104.04 L356.91 103.19 L355.43 102.42" stroke-opacity="0.04" stroke-width="2.8"/>
<path d="M355.43 102.42 L353.9 101.73 L352.35 101.13 L350.78 100.62 L349.18 100.2 L347.57 99.86 L345.96 99.62 L344.34 99.46 L342.72 99.39 L341.1 99.4 L339.5 99.5 L337.91 99.68 L336.34 99.95 L334.79 100.29 L333.28 100.72 L331.79 101.21 L330.33 101.79 L328.92 102.43 L327.54 103.14 L326.21 103.92 L324.93 104.76 L323.69 105.65 L322.51 106.61 L321.38 107.62 L320.3 108.68 L319.28 109.78 L318.33 110.93 L317.43 112.13 L316.59 113.36 L315.82 114.62" stroke-opacity="0.08" stroke-width="2.8"/>
<path d="M315.82 114.62 L315.11 115.92 L314.47 117.25 L313.89 118.6 L313.38 119.97 L312.93 121.37 L312.56 122.78 L312.25 124.21" stroke-opacity="0.04" stroke-width="2.8"/>
<path d="M312.56 137.22 L312.93 138.63 L313.38 140.03 L313.89 141.4 L314.47 142.75 L315.11 144.08 L315.82 145.38 L316.59 146.64 L317.43 147.87 L318.33 149.07 L319.28 150.22 L320.3 151.32 L321.38 152.38 L322.51 153.39 L323.69 154.35 L324.93 155.24" stroke-opacity="0.04" stroke-width="2.8"/>
<path d="M324.93 155.24 L326.21 156.08 L327.54 156.86 L328.92 157.57 L330.33 158.21 L331.79 158.79 L333.28 159.28 L334.79 159.71 L336.34 160.05 L337.91 160.32 L339.5 160.5 L341.1 160.6 L342.72 160.61 L344.34 160.54 L345.96 160.38 L347.57 160.14 L349.18 159.8 L350.78 159.38 L352.35 158.87 L353.9 158.27 L355.43 157.58 L356.91 156.81 L358.36 155.96 L359.76 155.02 L361.12 154.01 L362.42 152.92 L363.66 151.75 L364.83 150.51 L365.94 149.21 L366.98 147.84" stroke-opacity="0.08" stroke-width="2.8"/>
<path d="M366.98 147.84 L367.94 146.42 L368.82 144.94 L369.62 143.41 L370.33 141.83 L370.95 140.22 L371.48 138.57 L371.92 136.89" stroke-opacity="0.04" stroke-width="2.8"/>
<path d="M393.26 118.57 L392.62 115.77 L391.84 112.99 L390.92 110.26 L389.87 107.58 L388.68 104.94" stroke-opacity="0.04" stroke-width="2.8"/>
<path d="M388.68 104.94 L387.36 102.37 L385.91 99.86 L384.33 97.43 L382.63 95.07 L380.81 92.8 L378.88 90.62 L376.83 88.54 L374.68 86.56" stroke-opacity="0.08" stroke-width="2.8"/>
<path d="M374.68 86.56 L372.42 84.68 L370.07 82.93 L367.62 81.29 L365.09 79.77 L362.48 78.38 L359.8 77.13 L357.04 76.01 L354.23 75.04 L351.36 74.21 L348.44 73.53" stroke-opacity="0.12" stroke-width="2.8"/>
<path d="M348.44 73.53 L345.49 73 L342.51 72.62 L339.5 72.4 L336.48 72.34 L333.45 72.43 L330.42 72.69 L327.41 73.11 L324.41 73.69 L321.44 74.43 L318.51 75.32 L315.63 76.38 L312.79 77.59 L310.03 78.95 L307.33 80.46 L304.71 82.12 L302.18 83.92 L299.75 85.85 L297.42 87.92 L295.2 90.12 L293.11 92.43" stroke-opacity="0.08" stroke-width="2.8"/>
<path d="M293.11 92.43 L291.13 94.86 L289.29 97.4 L287.59 100.03 L286.03 102.76 L284.63 105.57 L283.37 108.45 L282.28 111.41 L281.34 114.42 L280.58 117.48" stroke-opacity="0.04" stroke-width="2.8"/>
<path d="M280.58 142.52 L281.34 145.58 L282.28 148.59 L283.37 151.55 L284.63 154.43 L286.03 157.24" stroke-opacity="0.04" stroke-width="2.8"/>
<path d="M286.03 157.24 L287.59 159.97 L289.29 162.6 L291.13 165.14 L293.11 167.57 L295.2 169.88 L297.42 172.08 L299.75 174.15 L302.18 176.08" stroke-opacity="0.08" stroke-width="2.8"/>
<path d="M302.18 176.08 L304.71 177.88 L307.33 179.54 L310.02 181.05 L312.79 182.41 L315.63 183.62 L318.51 184.68 L321.44 185.57 L324.41 186.31 L327.41 186.89 L330.42 187.31" stroke-opacity="0.12" stroke-width="2.8"/>
<path d="M330.42 187.31 L333.45 187.57 L336.48 187.66 L339.5 187.6 L342.51 187.38 L345.49 187 L348.44 186.47 L351.36 185.79 L354.23 184.96 L357.04 183.99 L359.8 182.87 L362.48 181.62 L365.09 180.23 L367.62 178.71 L370.07 177.07 L372.42 175.32 L374.68 173.44 L376.83 171.46 L378.88 169.38 L380.81 167.2 L382.63 164.93" stroke-opacity="0.08" stroke-width="2.8"/>
<path d="M382.63 164.93 L384.33 162.57 L385.91 160.14 L387.36 157.63 L388.68 155.06 L389.87 152.42 L390.92 149.74 L391.84 147.01 L392.62 144.23 L393.26 141.43" stroke-opacity="0.04" stroke-width="2.8"/>
<path d="M383.77 120.59 L383.25 118.28 L382.61 115.99 L381.87 113.74 L381.01 111.52 L380.04 109.35 L378.96 107.22 L377.77 105.15" stroke-opacity="0.04" stroke-width="2.8"/>
<path d="M377.77 105.15 L376.48 103.13 L375.09 101.18 L373.61 99.29 L372.02 97.48 L370.34 95.75 L368.58 94.1 L366.72 92.53 L364.79 91.06 L362.77 89.69 L360.69 88.41 L358.54 87.24 L356.32 86.18 L354.04 85.24 L351.72 84.41 L349.34 83.7 L346.93 83.11 L344.48 82.64 L342 82.31 L339.5 82.1 L336.99 82.02 L334.46 82.08 L331.94 82.27 L329.42 82.6 L326.92 83.06 L324.44 83.65 L321.99 84.38 L319.57 85.24 L317.2 86.23 L314.88 87.35" stroke-opacity="0.08" stroke-width="2.8"/>
<path d="M314.88 87.35 L312.61 88.59 L310.41 89.96 L308.29 91.45 L306.24 93.06 L304.28 94.78 L302.41 96.61 L300.64 98.54 L298.98 100.56 L297.43 102.68 L295.99 104.88 L294.68 107.16 L293.49 109.51 L292.43 111.93 L291.5 114.4 L290.71 116.93" stroke-opacity="0.04" stroke-width="2.8"/>
<path d="M290.06 140.51 L290.71 143.07 L291.5 145.6 L292.43 148.07 L293.49 150.49 L294.68 152.84 L295.99 155.12 L297.43 157.32" stroke-opacity="0.04" stroke-width="2.8"/>
<path d="M297.43 157.32 L298.98 159.44 L300.64 161.46 L302.41 163.39 L304.28 165.22 L306.24 166.94 L308.29 168.55 L310.41 170.04 L312.61 171.41 L314.88 172.65 L317.2 173.77 L319.57 174.76 L321.99 175.62 L324.44 176.35 L326.92 176.94 L329.42 177.4 L331.94 177.73 L334.46 177.92 L336.99 177.98 L339.5 177.9 L342 177.69 L344.48 177.36 L346.93 176.89 L349.34 176.3 L351.72 175.59 L354.04 174.76 L356.32 173.82 L358.54 172.76 L360.69 171.59 L362.77 170.31" stroke-opacity="0.08" stroke-width="2.8"/>
<path d="M362.77 170.31 L364.79 168.94 L366.72 167.47 L368.58 165.9 L370.34 164.25 L372.02 162.52 L373.61 160.71 L375.09 158.82 L376.48 156.87 L377.77 154.85 L378.96 152.78 L380.04 150.65 L381.01 148.48 L381.87 146.26 L382.61 144.01 L383.25 141.72" stroke-opacity="0.04" stroke-width="2.8"/>
<path d="M374.5 124.46 L374.18 122.63 L373.78 120.81 L373.29 119.02 L372.72 117.25" stroke-opacity="0.04" stroke-width="2.8"/>
<path d="M372.72 117.25 L372.05 115.51 L371.3 113.8 L370.47 112.12 L369.55 110.48" stroke-opacity="0.08" stroke-width="2.8"/>
<path d="M369.55 110.48 L368.56 108.89 L367.48 107.34 L366.32 105.85 L365.09 104.41 L363.78 103.03 L362.41 101.71 L360.96 100.46 L359.45 99.28" stroke-opacity="0.12" stroke-width="2.8"/>
<path d="M359.45 99.28 L357.88 98.17 L356.24 97.14 L354.55 96.2 L352.81 95.33 L351.02 94.56" stroke-opacity="0.16" stroke-width="2.8"/>
<path d="M351.02 94.56 L349.18 93.87 L347.3 93.28 L345.39 92.79 L343.45 92.39 L341.49 92.09 L339.5 91.9 L337.5 91.81 L335.49 91.83 L333.47 91.95 L331.46 92.18 L329.46 92.52 L327.47 92.97 L325.5 93.53 L323.56 94.19" stroke-opacity="0.12" stroke-width="2.8"/>
<path d="M323.56 94.19 L321.65 94.96 L319.77 95.84 L317.95 96.81 L316.17 97.89 L314.45 99.07 L312.8 100.34 L311.21 101.71 L309.7 103.16 L308.26 104.7 L306.91 106.32 L305.65 108.02 L304.48 109.78 L303.41 111.61" stroke-opacity="0.08" stroke-width="2.8"/>
<path d="M303.41 111.61 L302.44 113.5 L301.58 115.44 L300.82 117.43 L300.18 119.46 L299.65 121.53 L299.24 123.62" stroke-opacity="0.04" stroke-width="2.8"/>
<path d="M299.24 136.38 L299.65 138.47 L300.18 140.54 L300.82 142.57 L301.58 144.56" stroke-opacity="0.04" stroke-width="2.8"/>
<path d="M301.58 144.56 L302.44 146.5 L303.41 148.39 L304.48 150.22 L305.65 151.98" stroke-opacity="0.08" stroke-width="2.8"/>
<path d="M305.65 151.98 L306.91 153.68 L308.26 155.3 L309.7 156.84 L311.21 158.29 L312.8 159.66 L314.45 160.93 L316.17 162.11 L317.95 163.19" stroke-opacity="0.12" stroke-width="2.8"/>
<path d="M317.95 163.19 L319.77 164.16 L321.65 165.04 L323.56 165.81 L325.5 166.47 L327.47 167.03" stroke-opacity="0.16" stroke-width="2.8"/>
<path d="M327.47 167.03 L329.46 167.48 L331.46 167.82 L333.47 168.05 L335.49 168.17 L337.5 168.19 L339.5 168.1 L341.49 167.91 L343.45 167.61 L345.39 167.21 L347.3 166.72 L349.18 166.13 L351.02 165.44 L352.81 164.67 L354.55 163.8" stroke-opacity="0.12" stroke-width="2.8"/>
<path d="M354.55 163.8 L356.24 162.86 L357.88 161.83 L359.45 160.72 L360.96 159.54 L362.41 158.29 L363.78 156.97 L365.09 155.59 L366.32 154.15 L367.48 152.66 L368.56 151.11 L369.55 149.52 L370.47 147.88 L371.3 146.2" stroke-opacity="0.08" stroke-width="2.8"/>
<path d="M371.3 146.2 L372.05 144.49 L372.72 142.75 L373.29 140.98 L373.78 139.19 L374.18 137.37 L374.5 135.54" stroke-opacity="0.04" stroke-width="2.8"/>
<path d="M366.75 124.21 L366.44 122.78 L366.07 121.37 L365.62 119.97 L365.11 118.6 L364.53 117.25 L363.89 115.92 L363.18 114.62" stroke-opacity="0.04" stroke-width="2.8"/>
<path d="M363.18 114.62 L362.41 113.36 L361.57 112.13 L360.67 110.93 L359.72 109.78 L358.7 108.68 L357.62 107.62 L356.49 106.61 L355.31 105.65 L354.07 104.76 L352.79 103.92 L351.46 103.14 L350.08 102.43 L348.67 101.79 L347.21 101.21 L345.72 100.72 L344.21 100.29 L342.66 99.95 L341.09 99.68 L339.5 99.5 L337.9 99.4 L336.28 99.39 L334.66 99.46 L333.04 99.62 L331.43 99.86 L329.82 100.2 L328.22 100.62 L326.65 101.13 L325.1 101.73 L323.57 102.42" stroke-opacity="0.08" stroke-width="2.8"/>
<path d="M323.57 102.42 L322.09 103.19 L320.64 104.04 L319.24 104.98 L317.88 105.99 L316.58 107.08 L315.34 108.25 L314.17 109.49 L313.06 110.79 L312.02 112.16 L311.06 113.58 L310.18 115.06 L309.38 116.59 L308.67 118.17 L308.05 119.78 L307.52 121.43" stroke-opacity="0.04" stroke-width="2.8"/>
<path d="M307.08 136.89 L307.52 138.57 L308.05 140.22 L308.67 141.83 L309.38 143.41 L310.18 144.94 L311.06 146.42 L312.02 147.84" stroke-opacity="0.04" stroke-width="2.8"/>
<path d="M312.02 147.84 L313.06 149.21 L314.17 150.51 L315.34 151.75 L316.58 152.92 L317.88 154.01 L319.24 155.02 L320.64 155.96 L322.09 156.81 L323.57 157.58 L325.1 158.27 L326.65 158.87 L328.22 159.38 L329.82 159.8 L331.43 160.14 L333.04 160.38 L334.66 160.54 L336.28 160.61 L337.9 160.6 L339.5 160.5 L341.09 160.32 L342.66 160.05 L344.21 159.71 L345.72 159.28 L347.21 158.79 L348.67 158.21 L350.08 157.57 L351.46 156.86 L352.79 156.08 L354.07 155.24" stroke-opacity="0.08" stroke-width="2.8"/>
<path d="M354.07 155.24 L355.31 154.35 L356.49 153.39 L357.62 152.38 L358.7 151.32 L359.72 150.22 L360.67 149.07 L361.57 147.87 L362.41 146.64 L363.18 145.38 L363.89 144.08 L364.53 142.75 L365.11 141.4 L365.62 140.03 L366.07 138.63 L366.44 137.22" stroke-opacity="0.04" stroke-width="2.8"/>
</g></g>
<circle cx="339.5" cy="129.6" r="27.8" fill="#fff"/>
<g stroke="#00f0f0" stroke-width="2.2">
<path d="M340.1 46 v10 M340 214 v-10 M255.4 129.1 h10 M423.6 128.1 h-9.4"/>
</g>
<g transform="translate(216.1 0.6)">
<g stroke="#00f0f0" stroke-width="2.2" fill="none" stroke-linecap="butt">
<path d="M38.2 172.1 L210.1 85.2"/>
<path d="M197.2 90 L193.3 82.7"/>
<path d="M149.1 116.9 L144.6 107.2"/>
<path d="M48.7 167 L53.1 175.6"/>
<path d="M98.6 143 L103 151"/>
</g>
<g stroke="#00f0f0" stroke-width="2.2" fill="none"><path d="M172.6 102.8 L169 95.4 M74.1 154.9 L78 163"/></g>
<g stroke="#000" stroke-width="1.25" fill="none" stroke-linejoin="miter" stroke-linecap="round">
<path d="M198.3 88.5 L208.1 77.6 L200.6 79.2 L208.9 67.3"/><path d="M204.5 68.8 L208.9 67.3 L209.3 72"/>
<path d="M48.2 168 L44.5 181.8 L50.2 178.9 L48.2 191.8"/><path d="M45.4 187.4 L48.2 191.8 L52.6 188.6"/>
<path d="M150.2 117.6 L139.5 130.3"/><path d="M139.5 124.5 L139.5 130.3 L145.5 129.2"/>
<path d="M99 141.7 L119.2 140.4"/><path d="M113.7 137.2 L119.2 140.4 L114.4 144.2"/>
</g>
</g>
<text x="129.3" y="42.6" font-size="15.7" text-anchor="middle" >90°</text>
<text x="209.3" y="133.4" font-size="15.7" text-anchor="start" >0°</text>
<text x="127.8" y="230.7" font-size="15.7" text-anchor="middle" >270°</text>
<text font-size="15.7" text-anchor="middle" transform="translate(35 128.8) rotate(-90)">180°</text>
<text x="340.9" y="43" font-size="15.7" text-anchor="middle" >90°</text>
<text x="424.7" y="133.4" font-size="15.7" text-anchor="start" >0°</text>
<text x="343.2" y="230.7" font-size="15.7" text-anchor="middle" >270°</text>
<text font-size="15.7" text-anchor="middle" transform="translate(250.4 128.8) rotate(-90)">180°</text>
<text x="195.3" y="64.9" font-size="15.7" text-anchor="start" >120°</text>
<text x="34.2" y="206.4" font-size="15.7" text-anchor="start" >120°</text>
<text x="205.4" y="102.8" font-size="15.7" text-anchor="start" >θ</text>
<text x="29.6" y="169.9" font-size="15.7" text-anchor="start" >θ</text>
<text font-size="15.7" transform="translate(123.2 155.2) rotate(-25)">100°</text>
<text x="217" y="163.2" font-size="15.7" text-anchor="start" font-style="italic">φ</text>
<g transform="translate(0 0)"><path d="M199.6 176.5 Q205.6 170 207.6 163" stroke="#000" stroke-width="2.3" fill="none"/><path d="M210 155 L201.9 162.7 L212.3 165.6 Z" fill="#000"/></g>
<text x="411.2" y="66.9" font-size="15.7" text-anchor="start" >120°</text>
<text x="250.1" y="207" font-size="15.7" text-anchor="start" >120°</text>
<text x="421.3" y="103.4" font-size="15.7" text-anchor="start" >θ</text>
<text x="245.5" y="170.5" font-size="15.7" text-anchor="start" >θ</text>
<text font-size="15.7" transform="translate(339.1 156.2) rotate(-25)">100°</text>
<text x="432.9" y="163.8" font-size="15.7" text-anchor="start" font-style="italic">φ</text>
<g transform="translate(215.9 0.6)"><path d="M199.6 176.5 Q205.6 170 207.6 163" stroke="#000" stroke-width="2.3" fill="none"/><path d="M210 155 L201.9 162.7 L212.3 165.6 Z" fill="#000"/></g>
<text x="22.3" y="11.5" font-size="15.7"><tspan font-weight="bold">a</tspan> CXR by a plane wave</text>
<text x="35.3" y="30.1" font-size="15.7" text-anchor="start" >electron</text>
<text x="237.8" y="11.5" font-size="15.7"><tspan font-weight="bold">b</tspan> shaped CXR by a tailored</text>
<text x="250.8" y="30.1" font-size="15.7" text-anchor="start" >electron</text>
<text x="457.6" y="11.7" font-size="15.7"><tspan font-weight="bold">c</tspan> spectra at <tspan font-style="italic">θ</tspan><tspan letter-spacing="0.35">=110°</tspan><tspan dx="8.4" font-style="italic">φ</tspan>=0°</text>
<text x="37.8" y="256.5" font-size="15.7"><tspan font-style="italic">ħω</tspan>=2.0 keV</text>
<text x="150.4" y="238.2" font-size="15.7" text-anchor="start" >photons/(eV·st·ele)</text>
<rect x="150.8" y="246.8" width="117.3" height="10.3" fill="url(#cb)"/>
<path d="M167.56 257.1 v-4.2 M184.32 257.1 v-4.2 M201.08 257.1 v-4.2 M217.84 257.1 v-4.2 M234.6 257.1 v-4.2 M251.36 257.1 v-4.2 " stroke="#fff" stroke-width="1.2"/>
<text x="152.5" y="272.2" font-size="15.7" text-anchor="middle" >0</text>
<text x="202.6" y="272.2" font-size="15.7" text-anchor="middle" >3</text>
<text x="268.6" y="272" font-size="15.7" text-anchor="middle" >7</text>
<text x="275.6" y="261.8" font-size="15.7"><tspan font-size="19.4" dy="2.5" stroke-width="0">×</tspan><tspan dy="-2.1" dx="0.7">10</tspan><tspan font-size="10.6" dy="-4.5" dx="-0.7">-10</tspan></text>
<g fill="none" stroke-linejoin="round">
<path d="M490.6 203.5 C491.08 202.5 492.52 199.83 493.5 197.5 C494.48 195.17 495.5 191.58 496.5 189.5 C497.5 187.42 498.58 185.33 499.5 185 C500.42 184.67 501.25 186.62 502 187.5 C502.75 188.38 503.17 190.3 504 190.3 C504.83 190.3 506 189.38 507 187.5 C508 185.62 509.08 181.42 510 179 C510.92 176.58 511.73 174.37 512.5 173 C513.27 171.63 513.93 170.55 514.6 170.8 C515.27 171.05 515.77 171.97 516.5 174.5 C517.23 177.03 518.17 182.08 519 186 C519.83 189.92 520.67 195.2 521.5 198 C522.33 200.8 523.03 202.55 524 202.8 C524.97 203.05 526.13 201.72 527.3 199.5 C528.47 197.28 529.68 194.58 531 189.5 C532.32 184.42 533.93 174.92 535.2 169 C536.47 163.08 537.65 157.3 538.6 154 C539.55 150.7 540 149.2 540.9 149.2 C541.8 149.2 542.82 150.2 544 154 C545.18 157.8 546.67 165.67 548 172 C549.33 178.33 550.83 187.17 552 192 C553.17 196.83 554.08 199.12 555 201 C555.92 202.88 556.67 203.13 557.5 203.3 C558.33 203.47 559.08 203.22 560 202 C560.92 200.78 561.83 198.33 563 196 C564.17 193.67 565.67 190.08 567 188 C568.33 185.92 569.67 185.42 571 183.5 C572.33 181.58 573.78 178.12 575 176.5 C576.22 174.88 577.3 173.55 578.3 173.8 C579.3 174.05 580.05 174.97 581 178 C581.95 181.03 583.08 188.08 584 192 C584.92 195.92 585.67 199.58 586.5 201.5 C587.33 203.42 588 203.2 589 203.5 C590 203.8 591.5 203.8 592.5 203.3 C593.5 202.55 594.17 201.72 595 199 C595.83 196.28 596.67 192.33 597.5 187 C598.33 181.67 599.2 174.83 600 167 C600.8 159.17 601.55 149.5 602.3 140 C603.05 130.5 603.8 118.33 604.5 110 C605.2 101.67 605.97 93.92 606.5 90 C607.03 86.08 607.28 86.5 607.7 86.5 C608.12 86.5 608.45 86.42 609 90 C609.55 93.58 610.25 99.67 611 108 C611.75 116.33 612.67 129.33 613.5 140 C614.33 150.67 615.17 163.17 616 172 C616.83 180.83 617.67 188.08 618.5 193 C619.33 197.92 620.08 199.75 621 201.5 C621.92 203.25 622.83 203.2 624 203.5 C625.17 203.8 626.83 203.8 628 203.3 C629.17 202.55 630.08 202.38 631 199 C631.92 195.62 632.75 189.5 633.5 183 C634.25 176.5 634.92 167.5 635.5 160 C636.08 152.5 636.47 146.67 637 138 C637.53 129.33 638.2 115.83 638.7 108 C639.2 100.17 639.58 94.37 640 91 C640.42 87.63 640.8 87.8 641.2 87.8 C641.6 87.8 641.98 87.63 642.4 91 C642.82 94.37 643.1 99.83 643.7 108 C644.3 116.17 645.28 129.33 646 140 C646.72 150.67 647.33 163.67 648 172 C648.67 180.33 649.25 185.83 650 190 C650.75 194.17 651.55 195.45 652.5 197 C653.45 198.55 654.45 198.55 655.7 199.3 C656.95 200.05 658.57 200.85 660 201.5 C661.43 202.15 661.8 202.85 664.3 203.2 C666.8 203.55 671.72 203.53 675 203.6 C678.28 203.67 682.5 203.6 684 203.6" stroke="#c80a14" stroke-width="2.2" stroke-dasharray="8.4 5.2"/>
<path d="M489.8 202.9 C490.57 202.98 492.65 203.8 494.4 203.4 C496.15 202.23 498.53 197.8 500.3 195.9 C502.07 194 503.23 193.37 505 192 C506.77 190.63 509.4 187.95 510.9 187.7 C512.4 187.45 512.85 189.27 514 190.5 C515.15 191.73 516.47 194.85 517.8 195.1 C519.13 195.35 520.63 193.27 522 192 C523.37 190.73 524.77 188.47 526 187.5 C527.23 186.53 528.4 186.03 529.4 186.2 C530.4 186.37 531.07 186.87 532 188.5 C532.93 190.13 533.9 193.55 535 196 C536.1 198.45 536.93 201.93 538.6 203.2 C540.27 203.8 542.6 203.55 545 203.6 C547.4 203.65 551 203.72 553 203.5 C555 203.28 555.83 203.55 557 202.3 C558.17 201.05 559 198.72 560 196 C561 193.28 562 188.37 563 186 C564 183.63 565.08 182.22 566 181.8 C566.92 181.38 567.67 182.87 568.5 183.5 C569.33 184.13 570.08 185.85 571 185.6 C571.92 185.35 572.78 183.53 574 182 C575.22 180.47 577.13 176.57 578.3 176.4 C579.47 176.23 579.88 178.13 581 181 C582.12 183.87 583.83 192.27 585 193.6 C586.17 194.93 586.93 191.18 588 189 C589.07 186.82 590.23 180.5 591.4 180.5 C592.57 180.5 593.67 185.92 595 189 C596.33 192.08 598.07 198.5 599.4 199 C600.73 199.5 601.73 196.5 603 192 C604.27 187.5 605.57 177.75 607 172 C608.43 166.25 610.27 158.17 611.6 157.5 C612.93 156.83 613.68 163.33 615 168 C616.32 172.67 618.25 184.5 619.5 185.5 C620.75 186.5 621.48 177.17 622.5 174 C623.52 170.83 624.52 165.5 625.6 166.5 C626.68 167.5 627.57 174.37 629 180 C630.43 185.63 632.87 197 634.2 200.3 C635.53 203.6 635.93 200.1 637 199.8 C638.07 199.5 639.27 198.22 640.6 198.5 C641.93 198.78 643.5 200.75 645 201.5 C646.5 202.25 647.93 203 649.6 203 C651.27 203 653.17 202.17 655 201.5 C656.83 200.83 659.1 199 660.6 199 C662.1 199 662.93 200.78 664 201.5 C665.07 202.22 665.17 202.95 667 203.3 C668.83 203.65 672.17 203.55 675 203.6 C677.83 203.65 682.5 203.6 684 203.6" stroke="#0a78c8" stroke-width="2.2"/>
</g>
<g stroke="#111" stroke-width="1.3" fill="none">
<path d="M490.6 66.9 V204.1 H684.4"/>
<path d="M485.9 204.1 H490.6 M485.9 169.98 H490.6 M485.9 135.86 H490.6 M485.9 101.74 H490.6 M485.9 67.62 H490.6"/>
<path d="M490.6 204.1 V209.2 M538.9 204.1 V209.2 M587.2 204.1 V209.2 M635.5 204.1 V209.2 M683.2 204.1 V209.2"/>
</g>
<text x="483.6" y="210.8" font-size="15.7" text-anchor="end" >0</text>
<text x="484.3" y="74.6" font-size="15.7" text-anchor="end" >8</text>
<text x="538.9" y="224.8" font-size="15.7" text-anchor="middle" >1.9</text>
<text x="637.3" y="224.6" font-size="15.7" text-anchor="middle" >2.0</text>
<text x="517.2" y="240.3" font-size="15.7" text-anchor="start" >photon energy (keV)</text>
<text font-size="15.7" transform="translate(469.1 202.2) rotate(-90)">photons/(eV·st·ele)</text>
<text x="478.1" y="57.4" font-size="15.7"><tspan dy="-1.1">×</tspan><tspan dy="1.1">10</tspan><tspan font-size="10.6" dy="-4.6" dx="0.3">-10</tspan></text>
<path d="M504.1 72.9 H516.2" stroke="#0a78c8" stroke-width="2.2"/>
<path d="M505.9 118.8 H511.5 M513.5 118.8 H517.9" stroke="#c80a14" stroke-width="2.2"/>
<text x="523" y="68.4" font-size="15.7" text-anchor="start" >plane wave</text>
<text x="523" y="86.5" font-size="15.7" text-anchor="start" >electron</text>
<text x="523" y="115.4" font-size="15.7" text-anchor="start" >tailored</text>
<text x="523" y="133.5" font-size="15.7" text-anchor="start" >electron</text>
</svg></body></html>
